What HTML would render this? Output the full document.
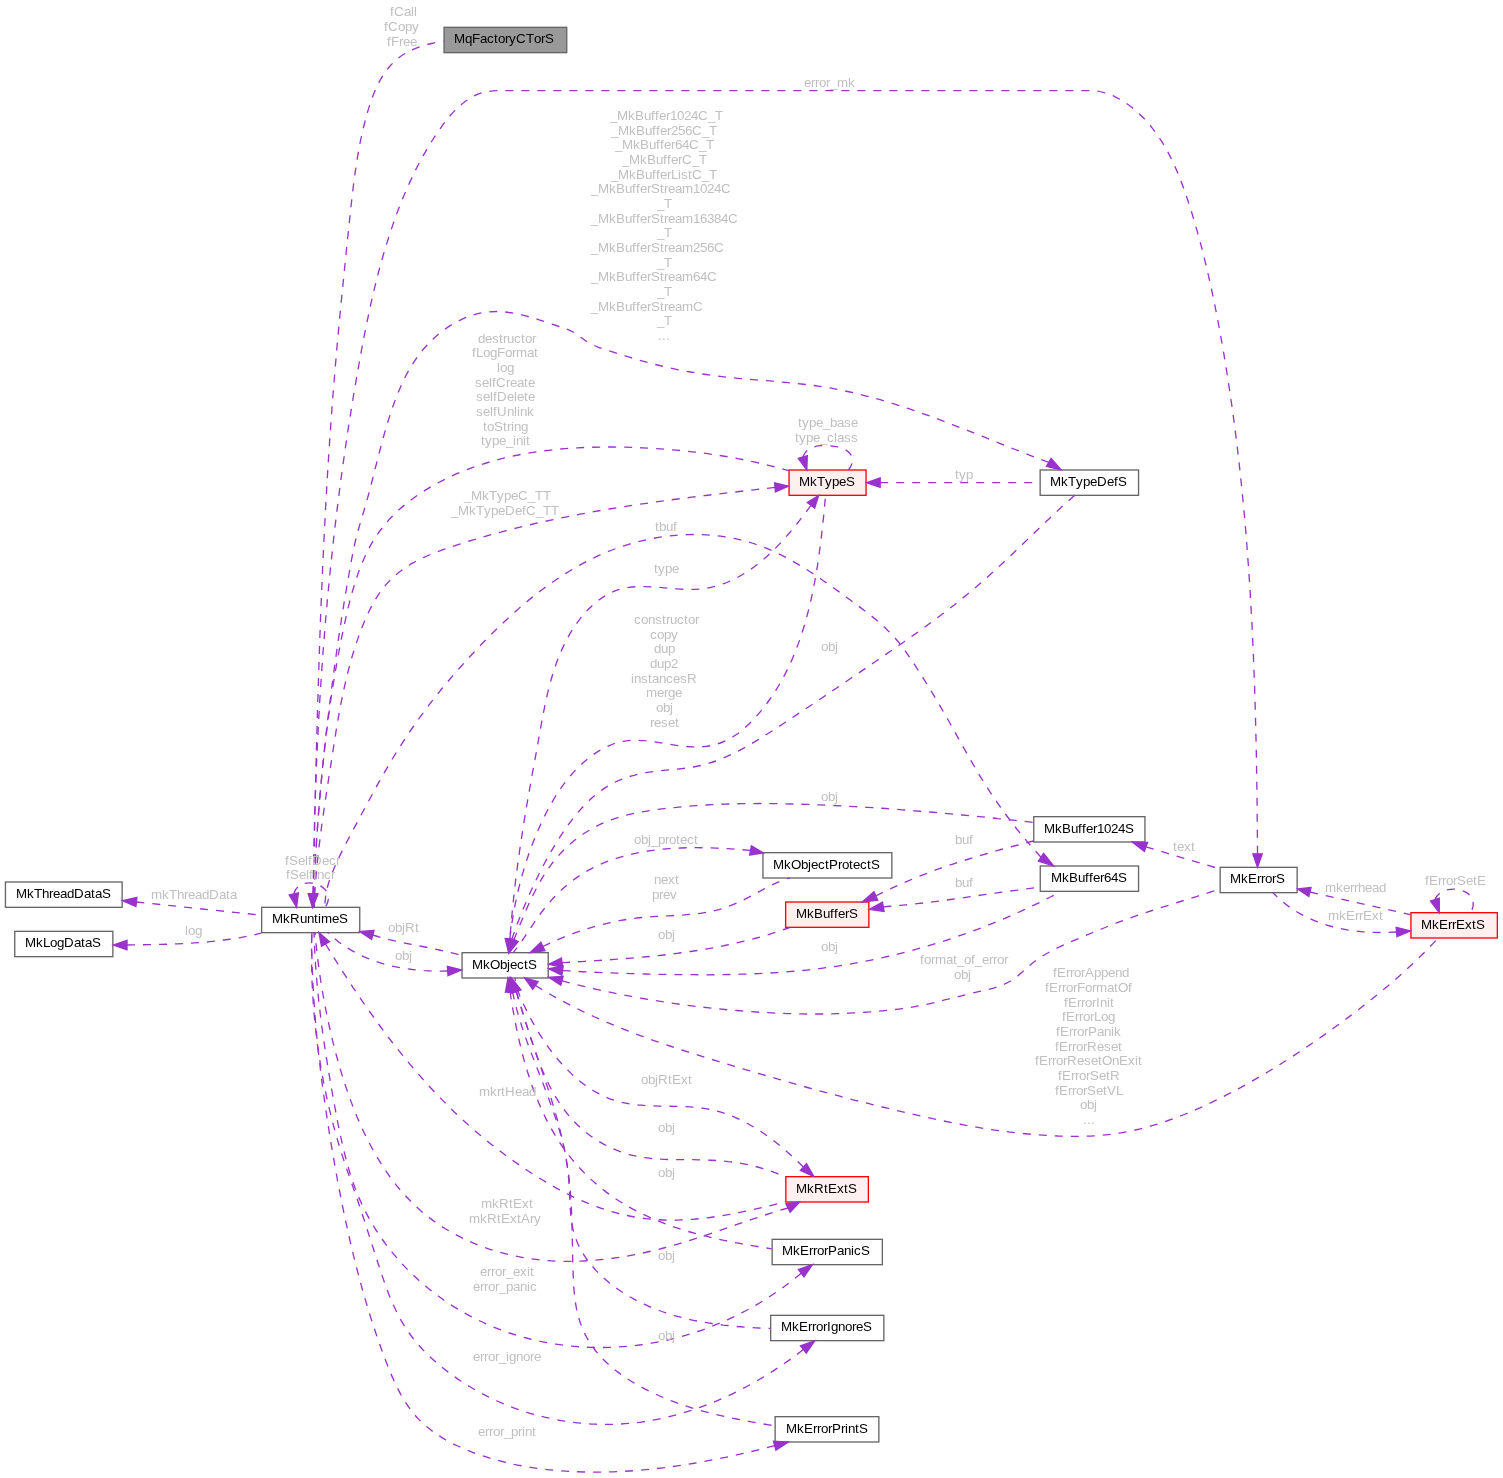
<!DOCTYPE html>
<html lang="en">
<head>
<meta charset="utf-8">
<title>MqFactoryCTorS collaboration graph</title>
<style>
html,body{margin:0;padding:0;background:#fff;}
body{width:1503px;height:1478px;overflow:hidden;}
svg{display:block;will-change:transform;}
text{font-family:"Liberation Sans",sans-serif;font-size:13.3333px;}
.e{fill:none;stroke:#9a32cd;stroke-width:1.3333;stroke-dasharray:8,8;}
.a{fill:#9a32cd;stroke:#9a32cd;stroke-width:1.3333;}
.n{fill:#fff;stroke:#666;stroke-width:1.3333;}
.r{fill:#fff0f0;stroke:#f00;stroke-width:1.3333;}
.g{fill:#999;stroke:#666;stroke-width:1.3333;}
</style>
</head>
<body>
<svg width="1503" height="1478" viewBox="0 0 1503 1478">
<rect x="0" y="0" width="1503" height="1478" fill="#fff"/>
<g id="nodes">
<rect class="g" x="444.05" y="27.33" width="122.70" height="25.33"/><text x="454 465 472 480 487 494 498 505 509 516 526 534 541 545" y="43" fill="#000">MqFactoryCTorS</text>
<rect class="n" x="261.65" y="907.33" width="98.10" height="25.33"/><text x="272 283 290 300 307 314 318 321 332 339" y="923" fill="#000">MkRuntimeS</text>
<rect class="n" x="5.45" y="882.00" width="116.70" height="25.33"/><text x="16 27 34 42 49 53 60 67 74 84 91 95 102" y="898" fill="#000">MkThreadDataS</text>
<rect class="n" x="14.75" y="931.33" width="98.10" height="25.33"/><text x="25 36 43 50 57 64 74 81 85 92" y="947" fill="#000">MkLogDataS</text>
<rect class="n" x="462.05" y="952.67" width="86.20" height="25.33"/><text x="472 483 490 500 507 510 517 524 528" y="969" fill="#000">MkObjectS</text>
<rect class="r" x="789.05" y="470.00" width="77.00" height="25.33"/><text x="799 810 817 825 832 839 846" y="486" fill="#000">MkTypeS</text>
<rect class="n" x="1040.15" y="470.00" width="98.40" height="25.33"/><text x="1050 1061 1068 1076 1083 1090 1097 1107 1114 1118" y="486" fill="#000">MkTypeDefS</text>
<rect class="n" x="1033.75" y="816.67" width="111.20" height="25.33"/><text x="1044 1055 1062 1071 1078 1082 1086 1093 1097 1104 1111 1118 1125" y="833" fill="#000">MkBuffer1024S</text>
<rect class="n" x="1040.25" y="866.00" width="98.30" height="25.33"/><text x="1051 1062 1069 1078 1085 1089 1093 1100 1104 1111 1118" y="882" fill="#000">MkBuffer64S</text>
<rect class="n" x="762.95" y="852.67" width="128.90" height="25.33"/><text x="773 784 791 801 808 811 818 825 829 838 842 849 853 860 867 871" y="869" fill="#000">MkObjectProtectS</text>
<rect class="r" x="785.65" y="902.00" width="83.20" height="25.33"/><text x="796 807 814 823 830 834 838 845 849" y="918" fill="#000">MkBufferS</text>
<rect class="n" x="1220.15" y="867.33" width="77.00" height="25.33"/><text x="1230 1241 1248 1257 1261 1265 1272 1276" y="883" fill="#000">MkErrorS</text>
<rect class="r" x="1410.95" y="912.67" width="86.40" height="25.33"/><text x="1421 1432 1439 1448 1452 1456 1465 1472 1476" y="929" fill="#000">MkErrExtS</text>
<rect class="r" x="785.85" y="1176.67" width="82.50" height="25.33"/><text x="796 807 814 824 828 837 844 848" y="1193" fill="#000">MkRtExtS</text>
<rect class="n" x="772.15" y="1239.33" width="110.20" height="25.33"/><text x="782 793 800 809 813 817 824 828 837 844 851 854 861" y="1255" fill="#000">MkErrorPanicS</text>
<rect class="n" x="770.65" y="1315.33" width="113.20" height="25.33"/><text x="781 792 799 808 812 816 823 827 831 838 845 852 856 863" y="1331" fill="#000">MkErrorIgnoreS</text>
<rect class="n" x="775.15" y="1416.67" width="103.70" height="25.33"/><text x="786 797 804 813 817 821 828 832 841 845 848 855 859" y="1433" fill="#000">MkErrorPrintS</text>
</g>
<g id="edges">
<path class="e" d="M313,893.9C313.1,889.9 313.2,885.9 313.3,882C313.4,878 313.5,874 313.6,870C313.6,866 313.7,862 313.8,858.1C313.9,854.1 314,850.1 314.1,846.1C314.2,842.1 314.3,838.1 314.4,834.2C314.5,830.2 314.6,826.2 314.7,822.2C314.8,818.2 314.8,814.2 314.9,810.3C315,806.3 315.1,802.3 315.2,798.3C315.3,794.3 315.4,790.3 315.5,786.4C315.6,782.4 315.7,778.4 315.8,774.4C315.9,770.4 316,766.4 316.1,762.5C316.2,758.5 316.3,754.5 316.4,750.5C316.5,746.5 316.6,742.5 316.7,738.5C316.8,734.6 317,730.6 317.1,726.6C317.2,722.6 317.3,718.6 317.4,714.6C317.5,710.6 317.6,706.7 317.7,702.7C317.9,698.7 318,694.7 318.1,690.7C318.2,686.7 318.3,682.8 318.5,678.8C318.6,674.8 318.7,670.8 318.9,666.8C319,662.8 319.1,658.8 319.3,654.9C319.4,650.9 319.5,646.9 319.7,642.9C319.8,638.9 319.9,634.9 320.1,631C320.2,627 320.4,623 320.5,619C320.7,615 320.8,611 321,607.1C321.2,603.1 321.3,599.1 321.5,595.1C321.6,591.1 321.8,587.1 322,583.2C322.1,579.2 322.3,575.2 322.5,571.2C322.7,567.2 322.8,563.3 323,559.3C323.2,555.3 323.4,551.3 323.6,547.3C323.8,543.3 324,539.4 324.2,535.4C324.4,531.4 324.6,527.4 324.8,523.4C325,519.5 325.2,515.5 325.4,511.5C325.6,507.5 325.8,503.5 326.1,499.6C326.3,495.6 326.5,491.6 326.7,487.6C327,483.7 327.2,479.7 327.4,475.7C327.7,471.7 327.9,467.7 328.2,463.8C328.4,459.8 328.7,455.8 328.9,451.8C329.2,447.9 329.5,443.9 329.7,439.9C330,435.9 330.3,432 330.6,428C330.8,424 331.1,420.1 331.4,416.1C331.7,412.1 332,408.1 332.3,404.2C332.6,400.2 332.9,396.2 333.2,392.2C333.5,388.3 333.8,384.3 334.2,380.3C334.5,376.4 334.8,372.4 335.1,368.4C335.5,364.5 335.8,360.5 336.2,356.5C336.5,352.6 336.9,348.6 337.2,344.6C337.6,340.7 337.9,336.7 338.3,332.7C338.7,328.8 339,324.8 339.4,320.8C339.8,316.9 340.1,312.9 340.5,308.9C340.9,305 341.3,301 341.7,297C342.1,293.1 342.5,289.1 342.9,285.1C343.3,281.2 343.7,277.2 344.1,273.2C344.5,269.3 344.9,265.3 345.3,261.3C345.7,257.4 346.1,253.4 346.5,249.4C346.9,245.5 347.3,241.5 347.7,237.5C348.1,233.6 348.6,229.6 349,225.6C349.4,221.7 349.8,217.7 350.2,213.7C350.6,209.8 351.1,205.8 351.5,201.8C352,197.9 352.4,193.9 352.9,189.9C353.4,186 353.8,182 354.4,178.1C354.9,174.1 355.5,170.1 356.1,166.2C356.6,162.3 357.3,158.3 358,154.4C358.6,150.5 359.4,146.5 360.1,142.6C360.9,138.7 361.8,134.8 362.7,130.9C363.6,127 364.5,123.1 365.6,119.2C366.6,115.4 367.7,111.5 368.9,107.6C370.1,103.8 371.4,100 372.8,96.3C374.2,92.5 375.8,88.9 377.5,85.4C379.2,81.8 381.1,78.4 383.2,75.2C385.2,72 387.5,68.9 390,66C392.6,63.2 395.3,60.5 398.3,58.1C401.4,55.7 404.7,53.6 408.3,51.8C411.8,49.9 415.6,48.3 419.5,46.9C423.4,45.5 427.5,44.4 431.5,43.5C435.6,42.5 439.6,41.8 443.6,41.2"/><polygon class="a" points="308.3,893.8 312.6,907.3 317.7,894"/>
<path class="e" d="M136.4,902L261.2,915.2"/><polygon class="a" points="136.9,897.4 122.6,900.6 135.9,906.6"/>
<path class="e" d="M127,945C130.7,944.9 134.5,944.9 138.2,944.8C142,944.8 145.7,944.7 149.5,944.6C153.2,944.6 157,944.5 160.7,944.4C164.5,944.3 168.2,944.2 172,944.1C175.7,943.9 179.5,943.8 183.2,943.6C187,943.4 190.7,943.2 194.5,942.9C198.2,942.7 202,942.4 205.7,942.1C209.4,941.7 213.2,941.4 216.9,940.9C220.6,940.5 224.3,940.1 228,939.5C231.8,939 235.5,938.4 239.2,937.8C242.8,937.2 246.5,936.5 250.2,935.7C253.9,934.9 257.5,934.1 261.2,933.2"/><polygon class="a" points="127,940.3 113.3,945 127,949.7"/>
<path class="e" d="M293.8,893.9C294.9,889.6 297.4,886.6 300.6,884.9C303.8,883.2 307.7,882.6 311.6,883.1C315.4,883.5 319.3,884.9 322.3,887.1C325.3,889.3 327.5,892.2 328.2,895.6C328.9,899.1 328.1,903 325.1,907.3"/><polygon class="a" points="289.2,894.9 296.6,907.3 298.4,892.9"/>
<path class="e" d="M1257.5,853.8C1257.5,849.8 1257.5,845.9 1257.4,841.9C1257.4,837.9 1257.4,833.9 1257.3,830C1257.3,826 1257.3,822 1257.2,818C1257.2,814.1 1257.2,810.1 1257.1,806.1C1257.1,802.1 1257,798.2 1257,794.2C1256.9,790.2 1256.9,786.2 1256.8,782.2C1256.8,778.3 1256.7,774.3 1256.6,770.3C1256.6,766.3 1256.5,762.3 1256.4,758.3C1256.3,754.4 1256.3,750.4 1256.2,746.4C1256.1,742.4 1256,738.4 1255.9,734.4C1255.8,730.4 1255.7,726.5 1255.6,722.5C1255.5,718.5 1255.4,714.5 1255.3,710.5C1255.2,706.5 1255.1,702.5 1254.9,698.5C1254.8,694.6 1254.7,690.6 1254.6,686.6C1254.4,682.6 1254.3,678.6 1254.1,674.6C1254,670.6 1253.8,666.6 1253.7,662.6C1253.5,658.7 1253.4,654.7 1253.2,650.7C1253,646.7 1252.8,642.7 1252.6,638.7C1252.5,634.7 1252.3,630.8 1252.1,626.8C1251.9,622.8 1251.7,618.8 1251.4,614.8C1251.2,610.8 1251,606.8 1250.8,602.9C1250.5,598.9 1250.3,594.9 1250.1,590.9C1249.8,586.9 1249.6,582.9 1249.3,579C1249,575 1248.8,571 1248.5,567C1248.2,563 1247.9,559.1 1247.6,555.1C1247.3,551.1 1247,547.1 1246.7,543.2C1246.4,539.2 1246.1,535.2 1245.8,531.2C1245.4,527.3 1245.1,523.3 1244.7,519.3C1244.4,515.3 1244,511.4 1243.7,507.4C1243.3,503.4 1242.9,499.5 1242.5,495.5C1242.1,491.5 1241.7,487.6 1241.3,483.6C1240.9,479.7 1240.5,475.7 1240.1,471.7C1239.6,467.8 1239.2,463.8 1238.7,459.9C1238.3,455.9 1237.8,452 1237.4,448C1236.9,444.1 1236.4,440.1 1235.9,436.2C1235.4,432.2 1234.9,428.3 1234.4,424.3C1233.9,420.4 1233.3,416.4 1232.8,412.5C1232.3,408.6 1231.7,404.6 1231.1,400.7C1230.6,396.8 1230,392.8 1229.4,388.9C1228.8,385 1228.2,381 1227.6,377.1C1227,373.2 1226.4,369.3 1225.7,365.3C1225.1,361.4 1224.4,357.5 1223.8,353.6C1223.1,349.7 1222.4,345.7 1221.7,341.8C1221,337.9 1220.3,334 1219.6,330.1C1218.9,326.2 1218.2,322.3 1217.4,318.4C1216.7,314.5 1215.9,310.6 1215.1,306.7C1214.4,302.8 1213.6,298.9 1212.7,295C1211.9,291.2 1211.1,287.3 1210.2,283.4C1209.4,279.5 1208.5,275.6 1207.6,271.8C1206.7,267.9 1205.8,264 1204.8,260.1C1203.9,256.3 1202.9,252.4 1201.9,248.5C1200.9,244.7 1199.8,240.8 1198.8,236.9C1197.7,233.1 1196.6,229.2 1195.5,225.4C1194.4,221.5 1193.3,217.6 1192.1,213.8C1190.9,209.9 1189.7,206.1 1188.4,202.3C1187.2,198.4 1185.9,194.6 1184.5,190.8C1183.2,187 1181.8,183.2 1180.3,179.4C1178.9,175.7 1177.3,171.9 1175.7,168.3C1174.1,164.6 1172.4,161 1170.6,157.4C1168.9,153.8 1167,150.3 1165,146.9C1163,143.5 1160.9,140.1 1158.7,136.8C1156.5,133.6 1154.1,130.4 1151.7,127.3C1149.2,124.2 1146.6,121.2 1143.8,118.3C1141.1,115.5 1138.2,112.7 1135.1,110.1C1132.1,107.5 1128.8,105 1125.5,102.8C1122.2,100.5 1118.7,98.5 1115.1,96.8C1111.6,95.1 1107.9,93.7 1104.1,92.7C1100.3,91.6 1096.5,90.9 1092.5,90.7L497.6,90.7C493.6,90.8 489.7,91.1 485.9,91.9C482,92.6 478.3,93.8 474.6,95.6C471,97.4 467.5,99.7 464.2,102.2C460.9,104.8 457.8,107.5 455,110.4C452.2,113.3 449.6,116.3 447.1,119.3C444.7,122.4 442.4,125.6 440.1,128.8C437.8,132 435.6,135.2 433.5,138.5C431.4,141.8 429.3,145.2 427.3,148.6C425.3,152 423.3,155.4 421.4,158.9C419.6,162.3 417.7,165.8 415.9,169.4C414.2,172.9 412.4,176.5 410.8,180.1C409.1,183.7 407.5,187.3 405.9,191C404.3,194.6 402.8,198.3 401.3,202C399.8,205.7 398.4,209.4 397,213.1C395.6,216.9 394.3,220.6 393,224.4C391.7,228.2 390.4,231.9 389.2,235.7C388,239.5 386.8,243.3 385.6,247.1C384.5,250.9 383.4,254.7 382.3,258.5C381.2,262.4 380.2,266.2 379.1,270C378.1,273.8 377.1,277.7 376.2,281.5C375.2,285.4 374.3,289.2 373.4,293.1C372.5,296.9 371.6,300.8 370.7,304.6C369.9,308.5 369,312.4 368.2,316.3C367.4,320.1 366.6,324 365.8,327.9C365,331.8 364.3,335.7 363.5,339.6C362.8,343.4 362,347.3 361.3,351.2C360.6,355.1 359.9,359 359.2,362.9C358.5,366.8 357.8,370.7 357.1,374.6C356.4,378.5 355.8,382.4 355.1,386.3C354.4,390.2 353.8,394.1 353.1,398C352.5,401.9 351.8,405.9 351.2,409.8C350.6,413.7 350,417.6 349.4,421.5C348.7,425.4 348.1,429.3 347.5,433.3C347,437.2 346.4,441.1 345.8,445C345.2,448.9 344.6,452.8 344.1,456.8C343.5,460.7 343,464.6 342.4,468.5C341.9,472.5 341.4,476.4 340.8,480.3C340.3,484.2 339.8,488.2 339.3,492.1C338.8,496 338.3,500 337.8,503.9C337.3,507.8 336.8,511.8 336.3,515.7C335.9,519.6 335.4,523.6 334.9,527.5C334.5,531.5 334,535.4 333.6,539.3C333.1,543.3 332.7,547.2 332.3,551.2C331.9,555.1 331.4,559 331,563C330.6,566.9 330.2,570.9 329.8,574.8C329.4,578.8 329,582.7 328.7,586.6C328.3,590.6 327.9,594.5 327.5,598.5C327.2,602.4 326.8,606.4 326.5,610.3C326.1,614.3 325.8,618.2 325.4,622.2C325.1,626.1 324.8,630.1 324.5,634.1C324.2,638 323.8,642 323.5,645.9C323.2,649.9 322.9,653.8 322.6,657.8C322.4,661.7 322.1,665.7 321.8,669.6C321.5,673.6 321.3,677.6 321,681.5C320.7,685.5 320.5,689.4 320.2,693.4C320,697.3 319.7,701.3 319.5,705.3C319.3,709.2 319.1,713.2 318.8,717.1C318.6,721.1 318.4,725.1 318.2,729C318,733 317.8,736.9 317.6,740.9C317.4,744.9 317.2,748.8 317.1,752.8C316.9,756.8 316.7,760.7 316.5,764.7C316.4,768.6 316.2,772.6 316.1,776.6C315.9,780.5 315.8,784.5 315.6,788.5C315.5,792.4 315.4,796.4 315.2,800.3C315.1,804.3 315,808.3 314.9,812.2C314.8,816.2 314.6,820.2 314.5,824.1C314.4,828.1 314.4,832 314.3,836C314.2,840 314.1,843.9 314,847.9C313.9,851.9 313.9,855.8 313.8,859.8C313.7,863.7 313.7,867.7 313.6,871.7C313.6,875.6 313.5,879.6 313.5,883.5C313.4,887.5 313.4,891.5 313.4,895.4C313.3,899.4 313.3,903.3 313.3,907.3"/><polygon class="a" points="1252.8,853.8 1257.5,867.3 1262.2,853.8"/>
<path class="e" d="M1048.8,462.4C1045,461 1041.3,459.6 1037.6,458.2C1033.8,456.8 1030.1,455.3 1026.4,453.9C1022.6,452.4 1018.9,451 1015.2,449.5C1011.5,448 1007.7,446.6 1004,445.1C1000.3,443.6 996.6,442.1 992.9,440.6C989.2,439.1 985.5,437.6 981.8,436.2C978,434.7 974.3,433.2 970.6,431.7C966.9,430.2 963.2,428.8 959.5,427.3C955.7,425.9 952,424.4 948.3,423C944.5,421.6 940.8,420.1 937.1,418.7C933.3,417.4 929.6,416 925.8,414.6C922,413.3 918.3,411.9 914.5,410.6C910.7,409.3 906.9,408.1 903.1,406.8C899.3,405.6 895.5,404.4 891.7,403.2C887.8,402 884,400.9 880.2,399.7C876.3,398.6 872.4,397.6 868.6,396.6C864.7,395.5 860.8,394.6 856.9,393.6C853,392.7 849.1,391.8 845.2,391C841.3,390.2 837.4,389.4 833.4,388.7C829.5,387.9 825.6,387.3 821.6,386.7C817.7,386.1 813.7,385.5 809.7,385C805.8,384.5 801.8,384.1 797.8,383.6C793.8,383.2 789.9,382.8 785.9,382.4C781.9,382.1 777.9,381.7 773.9,381.4C769.9,381 765.9,380.7 761.9,380.4C757.9,380.1 754,379.7 750,379.4C746,379 742,378.7 738,378.3C734,377.9 730.1,377.5 726.1,377.1C722.1,376.6 718.1,376.1 714.2,375.6C710.2,375.1 706.3,374.6 702.3,374C698.4,373.4 694.4,372.7 690.5,372C686.6,371.3 682.7,370.6 678.7,369.8C674.8,369 670.9,368.2 667,367.3C663.1,366.5 659.2,365.5 655.4,364.5C651.5,363.6 647.6,362.5 643.8,361.4C639.9,360.3 636,359.2 632.2,358C628.4,356.9 624.5,355.7 620.7,354.5C616.9,353.3 613,352.1 609.2,350.9C605.4,349.7 601.6,348.5 597.9,347.1C594.3,345.6 590.7,344 587.3,341.9C583.8,339.8 580.7,337.1 577.5,334.8C574.2,332.4 570.8,330.7 567.3,329.3C563.7,327.9 560,326.8 556.2,325.5C552.5,324.3 548.7,323 544.8,321.7C540.9,320.4 536.9,319.1 533,317.9C529,316.8 525,315.7 521,314.7C517,313.8 513,313 508.9,312.5C504.9,311.9 500.9,311.6 497,311.5C493,311.5 489.1,311.7 485.2,312.3C481.3,312.8 477.5,313.7 473.8,314.8C470,315.9 466.3,317.3 462.7,318.9C459.1,320.5 455.6,322.4 452.2,324.4C448.8,326.5 445.5,328.7 442.3,331.2C439.1,333.6 436,336.3 433.1,339C430.2,341.8 427.4,344.7 424.7,347.8C422,350.8 419.5,354 417.2,357.3C414.9,360.5 412.7,363.9 410.6,367.3C408.6,370.7 406.6,374.2 404.8,377.8C403,381.4 401.4,385 399.8,388.7C398.2,392.4 396.7,396.1 395.3,399.9C393.9,403.6 392.5,407.4 391.3,411.2C390,415 388.8,418.8 387.6,422.7C386.4,426.5 385.3,430.3 384.2,434.2C383.2,438 382.1,441.9 381.1,445.7C380.1,449.6 379.1,453.4 378.1,457.3C377.1,461.2 376.1,465 375.1,468.9C374.2,472.8 373.2,476.7 372.2,480.5C371.2,484.4 370.2,488.3 369.2,492.1C368.1,496 367.1,499.8 366,503.7C364.9,507.5 363.8,511.3 362.6,515.2C361.5,519 360.3,522.8 359.2,526.7C358.1,530.5 357,534.4 356.1,538.2C355.1,542.1 354.3,546 353.5,549.9C352.7,553.9 351.9,557.8 351.2,561.7C350.5,565.7 349.8,569.6 349.1,573.5C348.4,577.5 347.7,581.4 347,585.3C346.3,589.3 345.7,593.2 345,597.2C344.3,601.1 343.7,605.1 343.1,609C342.4,613 341.8,616.9 341.2,620.9C340.6,624.8 340,628.8 339.4,632.7C338.8,636.7 338.2,640.6 337.7,644.6C337.1,648.6 336.5,652.5 336,656.5C335.4,660.4 334.9,664.4 334.3,668.4C333.8,672.3 333.3,676.3 332.7,680.2C332.2,684.2 331.7,688.2 331.2,692.1C330.7,696.1 330.2,700.1 329.7,704C329.2,708 328.7,712 328.2,716C327.7,719.9 327.3,723.9 326.8,727.9C326.3,731.8 325.9,735.8 325.4,739.8C325,743.8 324.6,747.8 324.2,751.7C323.7,755.7 323.3,759.7 322.9,763.7C322.5,767.6 322.1,771.6 321.8,775.6C321.4,779.6 321,783.6 320.7,787.5C320.3,791.5 320,795.5 319.6,799.5C319.3,803.5 319,807.5 318.7,811.5C318.3,815.4 318,819.4 317.8,823.4C317.5,827.4 317.2,831.4 317,835.4C316.7,839.4 316.4,843.4 316.2,847.4C316,851.4 315.8,855.3 315.6,859.3C315.4,863.3 315.2,867.3 315,871.3C314.8,875.3 314.6,879.3 314.5,883.3C314.4,887.3 314.2,891.3 314.1,895.3C314,899.3 313.9,903.3 313.8,907.3"/><polygon class="a" points="1046.4,466.4 1061.2,469.9 1051.2,458.4"/>
<path class="e" d="M313.2,893.9C313.4,889.9 313.7,886 313.9,882C314.1,878 314.4,874.1 314.6,870.1C314.9,866.2 315.1,862.2 315.4,858.3C315.6,854.3 315.9,850.4 316.2,846.4C316.4,842.5 316.7,838.5 317,834.6C317.3,830.6 317.5,826.7 317.8,822.8C318.1,818.8 318.4,814.9 318.7,811C319.1,807 319.4,803.1 319.7,799.2C320,795.2 320.4,791.3 320.7,787.4C321.1,783.5 321.5,779.5 321.8,775.6C322.2,771.7 322.6,767.8 323,763.9C323.4,759.9 323.8,756 324.2,752.1C324.7,748.2 325.1,744.3 325.6,740.3C326,736.4 326.5,732.5 327,728.6C327.5,724.7 328,720.8 328.5,716.9C329,713 329.6,709.1 330.1,705.1C330.7,701.2 331.2,697.3 331.8,693.4C332.4,689.5 333,685.6 333.7,681.7C334.3,677.8 334.9,673.9 335.6,670C336.3,666.1 337,662.2 337.7,658.3C338.4,654.4 339.1,650.5 339.9,646.5C340.6,642.6 341.4,638.7 342.2,634.8C343,630.9 343.9,627 344.7,623.1C345.6,619.2 346.4,615.3 347.3,611.4C348.2,607.5 349.2,603.6 350.2,599.7C351.2,595.9 352.2,592 353.4,588.2C354.5,584.4 355.7,580.6 356.9,576.9C358.2,573.1 359.5,569.4 361,565.8C362.4,562.1 364,558.6 365.7,555C367.3,551.5 369.1,548.1 371,544.7C372.9,541.4 375,538.1 377.1,534.9C379.3,531.7 381.6,528.6 384.1,525.6C386.5,522.6 389.1,519.6 391.8,516.8C394.5,514 397.3,511.3 400.2,508.7C403.2,506.1 406.2,503.6 409.4,501.2C412.5,498.8 415.7,496.4 419,494.2C422.3,492 425.7,489.9 429.1,487.8C432.6,485.8 436.1,483.8 439.6,482C443.2,480.1 446.7,478.3 450.4,476.7C454,475 457.6,473.4 461.3,471.9C465,470.4 468.7,468.9 472.4,467.6C476.1,466.2 479.8,465 483.6,463.8C487.4,462.6 491.2,461.5 495,460.4C498.8,459.4 502.6,458.4 506.5,457.5C510.3,456.6 514.2,455.7 518.1,455C521.9,454.2 525.8,453.5 529.7,452.8C533.7,452.2 537.6,451.6 541.5,451.1C545.4,450.6 549.4,450.1 553.3,449.7C557.3,449.3 561.3,448.9 565.2,448.6C569.2,448.3 573.2,448 577.1,447.8C581.1,447.6 585.1,447.4 589.1,447.3C593.1,447.2 597.1,447.1 601,447.1C605,447 609,447 613,447C617,447.1 620.9,447.1 624.9,447.2C628.9,447.3 632.9,447.5 636.8,447.6C640.8,447.8 644.7,448 648.7,448.2C652.6,448.4 656.6,448.6 660.5,448.9C664.4,449.2 668.4,449.5 672.3,449.8C676.2,450.1 680.1,450.5 684,450.9C687.9,451.3 691.8,451.7 695.7,452.2C699.6,452.6 703.5,453.1 707.4,453.7C711.3,454.2 715.2,454.8 719,455.4C722.9,456 726.8,456.6 730.7,457.3C734.5,458 738.4,458.7 742.3,459.5C746.1,460.2 750,461 753.9,461.9C757.7,462.7 761.6,463.6 765.4,464.5C769.3,465.4 773.2,466.4 777,467.4C780.9,468.4 784.7,469.5 788.6,470.6"/><polygon class="a" points="308.5,893.7 312.6,907.3 317.9,894.1"/>
<path class="e" d="M775,487.4C771,487.9 767,488.3 763,488.8C759.1,489.2 755.1,489.7 751.1,490.1C747.1,490.6 743.2,491 739.2,491.5C735.2,492 731.3,492.4 727.3,492.9C723.3,493.4 719.4,493.8 715.4,494.3C711.5,494.8 707.5,495.2 703.6,495.7C699.6,496.2 695.7,496.7 691.7,497.2C687.8,497.7 683.8,498.2 679.9,498.7C676,499.2 672,499.7 668.1,500.3C664.2,500.8 660.2,501.3 656.3,501.9C652.4,502.4 648.5,503 644.5,503.6C640.6,504.1 636.7,504.7 632.8,505.3C628.9,505.9 625,506.5 621,507.1C617.1,507.8 613.2,508.4 609.3,509C605.4,509.7 601.5,510.4 597.6,511C593.7,511.7 589.8,512.4 585.9,513.1C582,513.8 578.1,514.6 574.2,515.3C570.3,516.1 566.4,516.9 562.5,517.6C558.7,518.4 554.8,519.2 550.9,520.1C547,520.9 543.1,521.8 539.2,522.6C535.4,523.5 531.5,524.4 527.6,525.3C523.7,526.2 519.8,527.2 516,528.1C512.1,529.1 508.2,530.1 504.4,531.1C500.5,532.1 496.6,533.2 492.7,534.2C488.9,535.3 485,536.4 481.2,537.5C477.3,538.7 473.4,539.8 469.6,541C465.7,542.2 461.8,543.4 458,544.6C454.1,545.9 450.3,547.1 446.4,548.5C442.6,549.8 438.8,551.2 435.1,552.6C431.3,554.1 427.6,555.6 424,557.3C420.4,559 416.8,560.7 413.4,562.7C410,564.6 406.7,566.6 403.5,568.9C400.4,571.1 397.3,573.5 394.4,576.1C391.6,578.7 388.9,581.5 386.3,584.4C383.7,587.3 381.3,590.4 379.1,593.6C376.9,596.9 374.8,600.2 372.9,603.7C371,607.2 369.2,610.8 367.6,614.4C365.9,618 364.3,621.7 362.8,625.4C361.3,629.1 359.9,632.9 358.6,636.6C357.2,640.4 356,644.2 354.7,648C353.5,651.8 352.4,655.6 351.3,659.4C350.2,663.2 349.2,667.1 348.2,671C347.2,674.8 346.3,678.7 345.4,682.6C344.5,686.5 343.6,690.4 342.8,694.3C342,698.2 341.2,702.1 340.5,706.1C339.8,710 339,713.9 338.3,717.9C337.7,721.8 337,725.7 336.3,729.7C335.7,733.6 335.1,737.6 334.4,741.5C333.8,745.5 333.2,749.4 332.6,753.4C332,757.3 331.4,761.2 330.8,765.2C330.2,769.1 329.5,773.1 328.9,777C328.3,780.9 327.7,784.8 327.1,788.8C326.5,792.7 325.9,796.6 325.3,800.5C324.7,804.5 324.2,808.4 323.6,812.3C323,816.2 322.5,820.2 321.9,824.1C321.4,828 320.9,831.9 320.4,835.9C319.9,839.8 319.4,843.7 318.9,847.7C318.5,851.6 318,855.6 317.6,859.5C317.2,863.5 316.8,867.4 316.5,871.4C316.1,875.3 315.8,879.3 315.5,883.3C315.2,887.3 315,891.3 314.7,895.3C314.5,899.3 314.3,903.3 314.2,907.3"/><polygon class="a" points="775.4,492 788.6,486.1 774.6,482.8"/>
<path class="e" d="M1041,857.2C1038.3,854.3 1035.6,851.3 1033,848.3C1030.3,845.3 1027.7,842.3 1025.2,839.2C1022.6,836.2 1020.1,833.1 1017.6,830C1015.1,826.9 1012.7,823.7 1010.3,820.5C1007.9,817.4 1005.5,814.2 1003.2,811C1000.8,807.7 998.5,804.5 996.3,801.2C994,797.9 991.8,794.6 989.6,791.3C987.5,788 985.3,784.6 983.2,781.2C981.1,777.9 979,774.5 977,771C975,767.6 973,764.2 971,760.7C969,757.3 967,753.8 965.1,750.3C963.2,746.8 961.2,743.4 959.3,739.9C957.3,736.4 955.4,732.9 953.5,729.4C951.5,725.9 949.6,722.5 947.6,719C945.6,715.5 943.6,712.1 941.6,708.6C939.6,705.2 937.6,701.7 935.5,698.3C933.5,694.9 931.4,691.5 929.4,688.1C927.3,684.7 925.2,681.3 923.1,677.9C920.9,674.5 918.8,671.1 916.6,667.8C914.5,664.4 912.3,661.1 910,657.8C907.8,654.5 905.5,651.2 903.1,648C900.8,644.8 898.3,641.8 895.7,638.8C893,635.8 890.3,632.9 887.5,630.2C884.7,627.4 881.8,624.7 878.8,622.1C875.8,619.5 872.8,617 869.7,614.6C866.6,612.1 863.4,609.8 860.3,607.4C857.1,605 853.9,602.7 850.7,600.3C847.4,598 844.2,595.6 841,593.2C837.7,590.9 834.4,588.5 831.2,586.2C827.9,583.8 824.6,581.5 821.2,579.2C817.9,576.9 814.6,574.7 811.2,572.5C807.8,570.3 804.4,568.1 801,566C797.5,563.9 794,561.9 790.5,560C787,558 783.5,556.1 779.9,554.4C776.4,552.6 772.8,551 769.1,549.4C765.5,547.8 761.8,546.4 758,545.1C754.3,543.8 750.5,542.6 746.7,541.6C742.9,540.5 739.1,539.6 735.2,538.7C731.3,537.9 727.4,537.2 723.5,536.7C719.5,536.1 715.6,535.6 711.6,535.3C707.7,535 703.7,534.8 699.7,534.6C695.7,534.5 691.7,534.5 687.7,534.7C683.7,534.8 679.7,535 675.8,535.3C671.8,535.7 667.8,536.1 663.8,536.7C659.9,537.2 655.9,537.9 652,538.6C648,539.4 644.1,540.2 640.3,541.2C636.4,542.1 632.5,543.2 628.7,544.3C624.9,545.5 621.1,546.7 617.4,548C613.6,549.4 609.9,550.8 606.2,552.3C602.6,553.8 599,555.5 595.4,557.1C591.8,558.8 588.3,560.6 584.7,562.4C581.2,564.3 577.8,566.2 574.3,568.2C570.9,570.2 567.5,572.3 564.2,574.4C560.8,576.5 557.5,578.7 554.2,581C550.9,583.2 547.7,585.6 544.4,587.9C541.2,590.3 538,592.7 534.9,595.2C531.7,597.7 528.6,600.2 525.6,602.8C522.5,605.4 519.4,608 516.4,610.7C513.4,613.3 510.4,616 507.5,618.7C504.5,621.5 501.6,624.2 498.7,627C495.8,629.8 492.9,632.6 490.1,635.5C487.3,638.3 484.5,641.2 481.7,644.1C478.9,647 476.2,649.9 473.5,652.8C470.8,655.7 468.1,658.6 465.4,661.6C462.8,664.5 460.1,667.5 457.5,670.4C454.9,673.4 452.3,676.3 449.8,679.3C447.2,682.3 444.7,685.3 442.2,688.3C439.7,691.4 437.2,694.4 434.8,697.5C432.3,700.6 429.9,703.8 427.5,707C425.1,710.2 422.7,713.4 420.4,716.7C418,719.9 415.7,723.2 413.4,726.5C411.1,729.8 408.9,733.1 406.7,736.4C404.4,739.7 402.3,743.1 400.1,746.4C398,749.8 395.9,753.2 393.8,756.5C391.7,759.9 389.7,763.4 387.7,766.8C385.7,770.2 383.7,773.6 381.8,777.1C379.8,780.6 377.9,784 376,787.5C374.1,791 372.2,794.5 370.3,798C368.4,801.5 366.5,805 364.6,808.5C362.7,812 360.9,815.5 359,819.1C357.1,822.6 355.2,826.1 353.3,829.6C351.4,833.2 349.6,836.7 347.7,840.3C345.8,843.8 344,847.4 342.2,850.9C340.4,854.5 338.6,858.1 337,861.7C335.3,865.3 333.7,869 332.3,872.7C330.8,876.3 329.5,880 328.4,883.8C327.3,887.6 326.4,891.4 325.8,895.3C325.2,899.2 324.9,903.2 325,907.3"/><polygon class="a" points="1038.4,861.1 1053.7,865.9 1043.6,853.3"/>
<path class="e" d="M811,505.3C808.8,508.4 806.4,511.5 804.1,514.6C801.7,517.8 799.3,520.9 796.8,524C794.3,527.2 791.7,530.3 789.1,533.3C786.4,536.4 783.7,539.4 781,542.4C778.2,545.4 775.4,548.3 772.5,551.1C769.6,553.9 766.6,556.6 763.6,559.2C760.6,561.8 757.5,564.3 754.3,566.7C751.1,569 747.9,571.3 744.6,573.3C741.3,575.4 737.9,577.3 734.4,579C731,580.7 727.4,582.3 723.8,583.6C720.2,584.9 716.5,586.1 712.8,586.9C709,587.8 705.2,588.5 701.3,588.9C697.4,589.3 693.4,589.4 689.4,589.4C685.3,589.4 681.2,589.2 677.1,588.9C673,588.6 668.9,588.2 664.8,587.9C660.7,587.5 656.6,587.1 652.5,586.9C648.4,586.7 644.4,586.5 640.4,586.6C636.5,586.6 632.6,586.9 628.8,587.4C625,587.9 621.2,588.7 617.7,589.9C614.1,591.1 610.6,592.7 607.3,594.5C604,596.4 600.8,598.5 597.7,600.9C594.6,603.3 591.7,605.9 588.9,608.8C586.1,611.6 583.5,614.6 581,617.7C578.5,620.9 576.1,624.1 573.9,627.5C571.7,630.8 569.7,634.2 567.7,637.7C565.8,641.2 564.1,644.7 562.4,648.4C560.8,652 559.2,655.6 557.8,659.3C556.4,663 555.1,666.8 553.9,670.6C552.7,674.4 551.5,678.2 550.5,682.1C549.4,685.9 548.4,689.8 547.5,693.7C546.6,697.7 545.7,701.6 544.9,705.5C544.1,709.5 543.3,713.4 542.6,717.4C541.8,721.3 541.1,725.3 540.4,729.2C539.7,733.2 539,737.1 538.3,741C537.6,744.9 536.9,748.8 536.2,752.7C535.5,756.6 534.8,760.5 534.1,764.4C533.3,768.2 532.6,772.1 531.9,775.9C531.2,779.8 530.6,783.7 529.9,787.5C529.2,791.4 528.5,795.3 527.8,799.1C527.2,803 526.5,806.9 525.8,810.8C525.2,814.6 524.6,818.5 523.9,822.5C523.3,826.4 522.7,830.3 522.1,834.2C521.5,838.1 520.9,842 520.3,846C519.7,849.9 519.2,853.9 518.6,857.8C518.1,861.7 517.5,865.7 517,869.7C516.5,873.6 516,877.6 515.5,881.5C515.1,885.5 514.6,889.4 514.1,893.4C513.7,897.3 513.3,901.3 512.9,905.3C512.5,909.2 512.1,913.2 511.7,917.1C511.3,921.1 511,925 510.7,929C510.3,932.9 510,936.9 509.8,940.8C509.5,944.7 509.2,948.7 509,952.6"/><polygon class="a" points="814.7,508.1 818.6,495.4 807.3,502.5"/>
<path class="e" d="M509.8,939C510.3,935 510.8,931.1 511.3,927.1C511.9,923.2 512.5,919.2 513.2,915.3C513.8,911.4 514.6,907.5 515.3,903.6C516.1,899.7 517,895.9 517.9,892C518.8,888.2 519.7,884.3 520.7,880.5C521.7,876.7 522.8,872.9 524,869.1C525.1,865.3 526.3,861.6 527.5,857.8C528.8,854.1 530.1,850.3 531.5,846.6C532.9,842.9 534.4,839.2 535.9,835.5C537.4,831.8 539,828.1 540.6,824.5C542.3,820.8 544,817.2 545.8,813.7C547.6,810.1 549.5,806.5 551.5,803.1C553.5,799.6 555.6,796.2 557.8,792.8C559.9,789.5 562.2,786.2 564.6,783.1C567,779.9 569.6,776.8 572.2,773.8C574.8,770.8 577.6,767.9 580.5,765.2C583.4,762.4 586.5,759.8 589.6,757.3C592.8,754.9 596,752.6 599.4,750.6C602.8,748.5 606.3,746.7 609.9,745.3C613.4,743.8 617.1,742.6 620.9,741.8C624.6,740.9 628.4,740.5 632.3,740.3C636.2,740.2 640.2,740.3 644.2,740.7C648.2,741 652.2,741.5 656.3,742.1C660.3,742.7 664.4,743.4 668.5,744C672.5,744.7 676.6,745.4 680.6,745.9C684.7,746.4 688.7,746.8 692.6,746.9C696.6,747.1 700.5,747 704.3,746.6C708.2,746.2 712,745.5 715.7,744.4C719.3,743.4 722.9,742 726.4,740.3C729.9,738.7 733.3,736.7 736.5,734.5C739.7,732.3 742.8,729.8 745.8,727.1C748.7,724.4 751.6,721.5 754.3,718.6C757,715.6 759.6,712.6 762.1,709.5C764.6,706.4 767,703.2 769.3,700C771.6,696.8 773.8,693.5 775.9,690.1C778,686.8 780,683.4 781.9,679.9C783.9,676.5 785.7,673 787.4,669.4C789.1,665.9 790.8,662.3 792.4,658.7C793.9,655 795.4,651.4 796.8,647.6C798.3,643.9 799.6,640.2 800.9,636.4C802.1,632.6 803.3,628.8 804.5,625C805.6,621.1 806.7,617.3 807.7,613.4C808.7,609.5 809.7,605.6 810.6,601.7C811.5,597.7 812.3,593.8 813.1,589.9C813.9,585.9 814.7,581.9 815.4,578C816.1,574 816.7,570 817.4,566.1C818,562.1 818.6,558.1 819.1,554.1C819.7,550.2 820.2,546.2 820.7,542.2C821.2,538.3 821.6,534.3 822.1,530.4C822.5,526.4 822.9,522.5 823.4,518.6C823.8,514.7 824.1,510.8 824.5,506.9C824.9,503.1 825.2,499.2 825.6,495.4"/><polygon class="a" points="505.2,938.6 508.6,952.6 514.4,939.4"/>
<path class="e" d="M511.7,939.5C513,935.7 514.3,932 515.7,928.3C517,924.6 518.4,920.9 519.9,917.2C521.3,913.6 522.8,909.9 524.3,906.3C525.8,902.7 527.4,899.1 529,895.5C530.5,891.9 532.2,888.3 533.8,884.8C535.5,881.2 537.2,877.7 538.9,874.2C540.6,870.7 542.4,867.2 544.3,863.7C546.1,860.2 548,856.8 550,853.4C551.9,849.9 553.9,846.5 556,843.2C558.1,839.8 560.3,836.4 562.5,833.1C564.7,829.8 567,826.5 569.4,823.2C571.8,820 574.2,816.8 576.8,813.8C579.3,810.7 582,807.7 584.7,804.9C587.4,802 590.3,799.3 593.2,796.8C596.2,794.2 599.2,791.8 602.4,789.6C605.5,787.4 608.8,785.4 612.2,783.6C615.6,781.8 619.2,780.2 622.8,778.8C626.4,777.5 630.2,776.3 634,775.3C637.8,774.2 641.6,773.4 645.6,772.7C649.5,772 653.5,771.5 657.4,771C661.4,770.6 665.5,770.2 669.5,769.8C673.5,769.5 677.5,769.1 681.5,768.7C685.5,768.2 689.4,767.7 693.3,767C697.2,766.4 701,765.5 704.7,764.5C708.5,763.5 712.2,762.3 715.8,761C719.5,759.7 723.1,758.2 726.6,756.7C730.2,755.1 733.7,753.4 737.1,751.6C740.6,749.9 744,748 747.4,746.1C750.8,744.1 754.2,742.1 757.5,740.1C760.9,738 764.2,735.9 767.6,733.8C770.9,731.7 774.2,729.5 777.5,727.4C780.8,725.2 784.1,723 787.4,720.9C790.7,718.7 794,716.5 797.3,714.4C800.6,712.2 803.9,710 807.2,707.8C810.5,705.6 813.8,703.4 817,701.2C820.3,699 823.6,696.8 826.9,694.6C830.1,692.4 833.4,690.2 836.7,688C839.9,685.8 843.2,683.5 846.5,681.3C849.7,679.1 853,676.9 856.2,674.7C859.5,672.4 862.7,670.2 866,668C869.3,665.8 872.5,663.5 875.8,661.3C879,659.1 882.3,656.9 885.5,654.6C888.7,652.4 892,650.2 895.2,647.9C898.5,645.7 901.7,643.4 904.9,641.2C908.1,638.9 911.4,636.6 914.6,634.4C917.8,632.1 921,629.8 924.2,627.5C927.3,625.2 930.5,622.9 933.7,620.5C936.8,618.2 940,615.8 943.1,613.5C946.2,611.1 949.4,608.7 952.5,606.3C955.6,603.9 958.6,601.4 961.7,598.9C964.8,596.5 967.8,594 970.8,591.4C973.8,588.9 976.8,586.4 979.8,583.8C982.8,581.2 985.7,578.6 988.7,575.9C991.6,573.3 994.5,570.6 997.4,568C1000.3,565.3 1003.2,562.6 1006.1,559.9C1009,557.2 1011.9,554.5 1014.7,551.7C1017.6,549 1020.4,546.3 1023.3,543.5C1026.1,540.8 1029,538 1031.8,535.3C1034.7,532.5 1037.5,529.8 1040.4,527.1C1043.2,524.4 1046.1,521.6 1049,518.9C1051.8,516.2 1054.7,513.5 1057.6,510.8C1060.4,508.1 1063.3,505.5 1066.2,502.8C1069.1,500.2 1072.1,497.6 1075,495"/><polygon class="a" points="507.1,938.5 508.9,952.6 516.3,940.5"/>
<path class="e" d="M513.8,940C515.2,936.5 516.7,932.9 518.2,929.2C519.6,925.6 521.1,921.9 522.7,918.2C524.2,914.5 525.8,910.8 527.4,907.1C529.1,903.4 530.8,899.7 532.5,896C534.3,892.4 536.2,888.7 538.1,885.2C540,881.6 542.1,878.1 544.2,874.7C546.3,871.3 548.6,868 551,864.8C553.3,861.7 555.8,858.6 558.5,855.7C561.1,852.7 563.9,849.9 566.7,847.2C569.6,844.5 572.6,842 575.6,839.6C578.7,837.2 581.9,834.9 585.2,832.8C588.5,830.7 591.9,828.7 595.3,826.9C598.8,825.1 602.3,823.4 605.9,821.9C609.6,820.4 613.3,819 617,817.8C620.8,816.6 624.6,815.5 628.5,814.6C632.4,813.7 636.3,812.8 640.3,812.1C644.2,811.4 648.2,810.8 652.2,810.2C656.2,809.6 660.2,809.1 664.2,808.6C668.2,808.2 672.2,807.7 676.2,807.4C680.2,807 684.2,806.6 688.2,806.3C692.2,805.9 696.2,805.7 700.2,805.4C704.2,805.1 708.1,804.9 712.1,804.7C716.1,804.5 720.1,804.3 724.1,804.2C728,804 732,803.9 736,803.8C740,803.7 743.9,803.7 747.9,803.6C751.9,803.6 755.8,803.5 759.8,803.5C763.8,803.5 767.7,803.6 771.7,803.6C775.7,803.6 779.6,803.7 783.6,803.8C787.6,803.8 791.5,803.9 795.5,804.1C799.5,804.2 803.4,804.3 807.4,804.4C811.3,804.6 815.3,804.7 819.3,804.9C823.2,805 827.2,805.2 831.2,805.4C835.1,805.6 839.1,805.8 843.1,806C847,806.2 851,806.4 855,806.6C858.9,806.9 862.9,807.1 866.9,807.3C870.9,807.6 874.8,807.8 878.8,808.1C882.8,808.4 886.7,808.7 890.7,808.9C894.7,809.2 898.6,809.5 902.6,809.8C906.6,810.1 910.5,810.5 914.5,810.8C918.5,811.1 922.4,811.4 926.4,811.8C930.4,812.1 934.3,812.4 938.3,812.8C942.3,813.1 946.2,813.5 950.2,813.9C954.2,814.2 958.1,814.6 962.1,815C966,815.4 970,815.8 974,816.1C977.9,816.5 981.9,816.9 985.9,817.3C989.8,817.7 993.8,818.1 997.7,818.6C1001.7,819 1005.6,819.4 1009.6,819.8C1013.5,820.2 1017.5,820.7 1021.4,821.1C1025.4,821.5 1029.4,822 1033.3,822.4"/><polygon class="a" points="509.4,938.4 509.3,952.6 518.2,941.6"/>
<path class="e" d="M750.5,850.4C746.8,850.1 743.1,849.8 739.4,849.5C735.6,849.2 731.8,848.9 728,848.7C724.1,848.5 720.3,848.3 716.4,848.1C712.5,847.9 708.6,847.8 704.7,847.8C700.7,847.7 696.8,847.7 692.9,847.7C688.9,847.7 685,847.8 681,848C677.1,848.1 673.1,848.3 669.2,848.6C665.2,848.9 661.3,849.3 657.4,849.8C653.5,850.2 649.6,850.8 645.8,851.4C641.9,852 638.1,852.7 634.3,853.6C630.5,854.4 626.7,855.3 623,856.3C619.3,857.4 615.7,858.5 612,859.8C608.4,861 604.9,862.4 601.4,863.9C597.9,865.4 594.4,867.1 591.1,868.8C587.7,870.6 584.4,872.5 581.2,874.6C578,876.6 574.9,878.8 571.8,881.1C568.8,883.5 565.8,886 563,888.6C560.1,891.2 557.3,893.9 554.6,896.8C551.9,899.6 549.3,902.5 546.8,905.6C544.3,908.6 541.9,911.7 539.6,914.8C537.3,918 535.1,921.2 533,924.4C530.8,927.7 528.7,930.9 526.6,934.1C524.4,937.3 522.3,940.5 520.1,943.6C517.9,946.7 515.5,949.7 513.1,952.6"/><polygon class="a" points="749.6,855 763.5,852.9 751.4,845.8"/>
<path class="e" d="M542.9,946.5C546.5,944.7 550.1,943.1 553.7,941.5C557.3,939.8 560.9,938.3 564.5,936.8C568.2,935.3 571.9,933.9 575.6,932.6C579.3,931.3 583,930 586.7,928.9C590.4,927.7 594.2,926.6 597.9,925.6C601.7,924.6 605.5,923.6 609.3,922.8C613.1,921.9 617,921.1 620.8,920.4C624.7,919.7 628.5,919.1 632.4,918.6C636.3,918.1 640.2,917.6 644.2,917.3C648.1,916.9 652,916.7 656,916.4C659.9,916.2 663.9,916 667.9,915.8C671.8,915.6 675.8,915.5 679.7,915.2C683.7,915 687.6,914.7 691.5,914.3C695.4,914 699.3,913.5 703.1,912.9C707,912.3 710.8,911.6 714.5,910.7C718.3,909.8 722,908.7 725.7,907.5C729.3,906.2 732.9,904.8 736.5,903.2C740.1,901.6 743.6,899.9 747.1,898.1C750.7,896.3 754.1,894.4 757.6,892.5C761.1,890.6 764.6,888.7 768.1,886.9C771.6,885.1 775.2,883.4 778.8,881.8C782.3,880.3 786,878.9 789.7,877.8"/><polygon class="a" points="540.9,942.3 530.2,952.6 544.9,950.7"/>
<path class="e" d="M562,962.7C565.8,962.5 569.7,962.3 573.5,962C577.3,961.8 581.2,961.6 585,961.3C588.9,961.1 592.7,960.9 596.6,960.6C600.4,960.4 604.3,960.1 608.1,959.9C612,959.6 615.8,959.3 619.7,959C623.5,958.7 627.4,958.4 631.2,958.1C635.1,957.8 638.9,957.5 642.7,957.1C646.6,956.8 650.4,956.4 654.3,956C658.1,955.6 662,955.2 665.8,954.7C669.6,954.3 673.5,953.8 677.3,953.3C681.1,952.9 684.9,952.3 688.7,951.8C692.6,951.2 696.4,950.7 700.2,950C704,949.4 707.8,948.8 711.6,948.1C715.4,947.4 719.1,946.7 722.9,945.9C726.7,945.2 730.4,944.4 734.2,943.5C738,942.7 741.7,941.8 745.4,940.9C749.2,940 752.9,939 756.6,938C760.3,937 764,935.9 767.7,934.8C771.4,933.7 775.1,932.5 778.7,931.3C782.4,930.1 786.1,928.8 789.7,927.5"/><polygon class="a" points="561.4,958.1 548.7,964.3 562.6,967.3"/>
<path class="e" d="M562.5,970.6C566.5,970.8 570.4,971 574.4,971.2C578.3,971.5 582.3,971.7 586.2,971.8C590.2,972 594.1,972.2 598.1,972.4C602.1,972.5 606,972.7 610,972.9C614,973 617.9,973.2 621.9,973.3C625.9,973.4 629.8,973.5 633.8,973.7C637.8,973.8 641.7,973.9 645.7,974C649.7,974.1 653.7,974.2 657.6,974.3C661.6,974.3 665.6,974.4 669.6,974.5C673.6,974.5 677.5,974.6 681.5,974.6C685.5,974.7 689.5,974.7 693.5,974.7C697.4,974.8 701.4,974.8 705.4,974.8C709.4,974.8 713.4,974.7 717.3,974.7C721.3,974.7 725.3,974.6 729.3,974.5C733.3,974.5 737.2,974.4 741.2,974.2C745.2,974.1 749.2,974 753.1,973.8C757.1,973.7 761.1,973.5 765,973.3C769,973.1 773,972.8 776.9,972.6C780.9,972.3 784.9,972 788.8,971.7C792.8,971.4 796.7,971 800.7,970.7C804.6,970.3 808.6,969.9 812.5,969.4C816.4,969 820.4,968.5 824.3,967.9C828.2,967.4 832.1,966.9 836.1,966.3C840,965.7 843.9,965.1 847.8,964.4C851.7,963.8 855.6,963.1 859.5,962.3C863.4,961.6 867.3,960.8 871.2,960.1C875.1,959.3 878.9,958.4 882.8,957.6C886.7,956.7 890.5,955.8 894.4,954.9C898.2,954 902.1,953 905.9,952C909.7,951 913.6,950 917.4,948.9C921.2,947.9 925,946.8 928.8,945.6C932.6,944.5 936.4,943.3 940.2,942.2C944,941 947.8,939.7 951.5,938.5C955.3,937.2 959,935.9 962.8,934.6C966.5,933.3 970.3,932 974,930.6C977.7,929.2 981.4,927.8 985.1,926.3C988.8,924.9 992.5,923.4 996.2,921.9C999.9,920.4 1003.5,918.9 1007.2,917.3C1010.8,915.7 1014.5,914.1 1018.1,912.5C1021.7,910.9 1025.3,909.2 1028.9,907.5C1032.5,905.8 1036.1,904.1 1039.7,902.4C1043.3,900.6 1046.9,898.8 1050.4,897C1053.9,895.2 1057.5,893.4 1061,891.5"/><polygon class="a" points="563.1,966 548.7,968.8 561.9,975.2"/>
<path class="e" d="M562,980.8C565.8,981.8 569.6,982.8 573.4,983.8C577.3,984.8 581.1,985.7 584.9,986.6C588.7,987.5 592.6,988.4 596.4,989.3C600.3,990.2 604.1,991 608,991.8C611.8,992.6 615.7,993.4 619.6,994.2C623.4,995 627.3,995.7 631.2,996.4C635,997.2 638.9,997.9 642.8,998.5C646.7,999.2 650.6,999.9 654.5,1000.5C658.4,1001.1 662.3,1001.7 666.2,1002.3C670.1,1002.9 674,1003.5 677.9,1004C681.8,1004.5 685.7,1005.1 689.6,1005.6C693.5,1006.1 697.4,1006.5 701.3,1007C705.3,1007.4 709.2,1007.9 713.1,1008.3C717,1008.7 720.9,1009.1 724.9,1009.5C728.8,1009.9 732.7,1010.2 736.6,1010.5C740.6,1010.9 744.5,1011.2 748.4,1011.5C752.4,1011.8 756.3,1012 760.2,1012.3C764.2,1012.5 768.1,1012.7 772,1012.9C776,1013.1 779.9,1013.3 783.8,1013.4C787.8,1013.6 791.7,1013.7 795.6,1013.8C799.6,1013.9 803.5,1013.9 807.5,1014C811.4,1014 815.3,1014 819.3,1014C823.2,1014 827.2,1013.9 831.1,1013.8C835,1013.7 839,1013.6 842.9,1013.5C846.8,1013.3 850.8,1013.1 854.7,1012.9C858.7,1012.7 862.6,1012.5 866.5,1012.2C870.5,1011.9 874.4,1011.6 878.4,1011.2C882.3,1010.9 886.2,1010.5 890.2,1010.1C894.1,1009.6 898,1009.2 901.9,1008.6C905.8,1008.1 909.7,1007.5 913.6,1006.8C917.5,1006.2 921.3,1005.4 925.2,1004.6C929,1003.8 932.8,1002.9 936.6,1002C940.4,1001.1 944.2,1000.1 948.1,999.2C951.9,998.2 955.7,997.2 959.5,996.3C963.4,995.3 967.2,994.3 971.1,993.4C975,992.5 978.9,991.6 982.9,990.7C986.8,989.8 990.7,988.9 994.5,987.8C998.3,986.7 1002,985.3 1005.5,983.7C1009,982.1 1012.3,980.1 1015.4,977.8C1018.5,975.5 1021.4,972.9 1024.4,970.2C1027.3,967.5 1030.2,964.9 1033.3,962.4C1036.4,960 1039.6,957.8 1042.9,955.8C1046.3,953.7 1049.8,951.8 1053.3,950C1056.8,948.3 1060.3,946.5 1063.9,944.9C1067.5,943.2 1071.2,941.7 1074.8,940.1C1078.4,938.5 1082.1,937 1085.7,935.5C1089.4,934 1093,932.5 1096.7,931C1100.3,929.5 1104,928 1107.6,926.5C1111.3,925 1114.9,923.6 1118.6,922.2C1122.3,920.8 1126,919.4 1129.7,918.1C1133.4,916.8 1137.1,915.5 1140.8,914.2C1144.6,912.9 1148.3,911.7 1152.1,910.5C1155.8,909.2 1159.6,908 1163.3,906.9C1167.1,905.7 1170.9,904.5 1174.6,903.3C1178.4,902.2 1182.2,901 1185.9,899.8C1189.7,898.7 1193.5,897.5 1197.2,896.3C1201,895.1 1204.8,893.9 1208.5,892.7C1212.2,891.5 1216,890.3 1219.7,889"/><polygon class="a" points="563.2,976.3 548.7,977.3 560.8,985.3"/>
<path class="e" d="M535.4,985.5C538.8,987.6 542.2,989.7 545.6,991.7C549.1,993.7 552.5,995.7 556,997.6C559.5,999.5 563,1001.4 566.5,1003.2C570,1005.1 573.5,1006.9 577.1,1008.6C580.6,1010.4 584.2,1012.1 587.8,1013.8C591.4,1015.4 595,1017.1 598.6,1018.7C602.2,1020.3 605.8,1021.9 609.5,1023.4C613.1,1024.9 616.8,1026.4 620.4,1027.9C624.1,1029.4 627.8,1030.8 631.5,1032.3C635.2,1033.7 638.9,1035.1 642.6,1036.4C646.3,1037.8 650.1,1039.1 653.8,1040.5C657.5,1041.8 661.3,1043.1 665,1044.4C668.8,1045.6 672.5,1046.9 676.3,1048.1C680.1,1049.4 683.8,1050.6 687.6,1051.8C691.4,1053 695.2,1054.2 699,1055.4C702.8,1056.6 706.5,1057.8 710.3,1059C714.1,1060.1 717.9,1061.3 721.7,1062.4C725.5,1063.6 729.3,1064.7 733.1,1065.9C736.9,1067 740.7,1068.1 744.5,1069.3C748.3,1070.4 752.1,1071.5 755.9,1072.7C759.7,1073.8 763.5,1074.9 767.3,1076C771.2,1077.1 775,1078.2 778.8,1079.3C782.6,1080.4 786.4,1081.5 790.2,1082.6C794,1083.7 797.8,1084.8 801.6,1085.8C805.4,1086.9 809.3,1088 813.1,1089C816.9,1090.1 820.7,1091.1 824.5,1092.2C828.4,1093.2 832.2,1094.2 836,1095.2C839.8,1096.3 843.7,1097.3 847.5,1098.3C851.4,1099.3 855.2,1100.3 859,1101.2C862.9,1102.2 866.7,1103.2 870.6,1104.1C874.4,1105.1 878.3,1106.1 882.1,1107C886,1107.9 889.8,1108.8 893.7,1109.8C897.6,1110.7 901.4,1111.6 905.3,1112.5C909.1,1113.3 913,1114.2 916.9,1115.1C920.7,1116 924.6,1116.8 928.5,1117.7C932.3,1118.5 936.2,1119.3 940.1,1120.2C943.9,1121 947.8,1121.8 951.7,1122.6C955.5,1123.3 959.4,1124.1 963.3,1124.8C967.2,1125.6 971.1,1126.3 975,1126.9C978.9,1127.6 982.8,1128.3 986.7,1128.9C990.6,1129.5 994.5,1130.1 998.4,1130.6C1002.4,1131.1 1006.3,1131.6 1010.2,1132.1C1014.2,1132.6 1018.1,1133 1022.1,1133.4C1026,1133.8 1030,1134.2 1034,1134.5C1038,1134.8 1041.9,1135.1 1045.9,1135.3C1049.9,1135.6 1053.9,1135.8 1057.9,1136C1061.9,1136.1 1065.9,1136.2 1069.9,1136.3C1073.9,1136.4 1077.9,1136.4 1081.9,1136.3C1085.9,1136.2 1089.8,1136.1 1093.8,1135.9C1097.8,1135.7 1101.7,1135.3 1105.7,1134.9C1109.6,1134.5 1113.5,1134 1117.4,1133.4C1121.3,1132.8 1125.2,1132.1 1129,1131.4C1132.9,1130.6 1136.7,1129.7 1140.5,1128.8C1144.4,1127.8 1148.2,1126.8 1151.9,1125.7C1155.7,1124.6 1159.5,1123.5 1163.2,1122.2C1167,1121 1170.7,1119.7 1174.4,1118.3C1178.1,1116.9 1181.8,1115.5 1185.5,1114C1189.1,1112.5 1192.8,1111 1196.4,1109.4C1200.1,1107.8 1203.7,1106.2 1207.3,1104.5C1210.9,1102.8 1214.4,1101.1 1218,1099.3C1221.6,1097.6 1225.1,1095.8 1228.6,1093.9C1232.2,1092.1 1235.7,1090.2 1239.2,1088.3C1242.7,1086.4 1246.1,1084.5 1249.6,1082.5C1253.1,1080.6 1256.5,1078.6 1259.9,1076.6C1263.4,1074.6 1266.8,1072.6 1270.2,1070.5C1273.6,1068.4 1276.9,1066.3 1280.3,1064.2C1283.7,1062.1 1287,1060 1290.4,1057.8C1293.7,1055.7 1297,1053.5 1300.3,1051.3C1303.6,1049.1 1306.9,1046.9 1310.2,1044.6C1313.5,1042.4 1316.7,1040.1 1320,1037.8C1323.2,1035.6 1326.5,1033.3 1329.7,1030.9C1332.9,1028.6 1336.1,1026.3 1339.3,1024C1342.5,1021.6 1345.7,1019.2 1348.9,1016.9C1352,1014.5 1355.2,1012.1 1358.3,1009.7C1361.5,1007.3 1364.6,1004.8 1367.7,1002.4C1370.8,999.9 1373.9,997.5 1376.9,995C1380,992.5 1383.1,989.9 1386.1,987.4C1389.1,984.8 1392.1,982.3 1395.1,979.7C1398.1,977.1 1401.1,974.4 1404,971.8C1406.9,969.1 1409.8,966.4 1412.7,963.7C1415.6,961 1418.5,958.2 1421.3,955.5C1424.1,952.7 1426.9,949.8 1429.7,947C1432.5,944.1 1435.2,941.2 1437.9,938.3"/><polygon class="a" points="538.1,981.7 524.6,978 532.7,989.3"/>
<path class="e" d="M372.8,935C376.4,936.1 380.1,937.2 383.8,938.2C387.4,939.1 391.1,940 394.8,940.9C398.5,941.7 402.2,942.5 406,943.3C409.7,944.1 413.4,944.8 417.1,945.5C420.9,946.3 424.6,947 428.3,947.7C432,948.5 435.8,949.2 439.5,950C443.2,950.8 446.9,951.7 450.6,952.6C454.3,953.5 457.9,954.4 461.6,955.5"/><polygon class="a" points="374,930.5 359.8,931.5 371.6,939.5"/>
<path class="e" d="M447.7,971C443.8,971.1 439.9,971.1 436,971C432,971 428.1,970.8 424.2,970.6C420.2,970.3 416.3,969.9 412.4,969.5C408.5,969 404.6,968.5 400.8,967.8C396.9,967.1 393.1,966.3 389.3,965.4C385.5,964.4 381.8,963.4 378.1,962.2C374.4,961 370.8,959.6 367.2,958.1C363.6,956.7 360.1,955 356.6,953.2C353.2,951.5 349.8,949.5 346.5,947.4C343.2,945.3 340,943 336.9,940.5C333.8,938.1 330.8,935.4 327.9,932.6"/><polygon class="a" points="448,975.7 461.6,970 447.4,966.3"/>
<path class="e" d="M875.8,896C879.3,894.2 882.9,892.4 886.5,890.6C890.1,888.9 893.7,887.2 897.3,885.6C900.9,884 904.6,882.4 908.3,880.8C911.9,879.3 915.6,877.8 919.3,876.3C923,874.8 926.7,873.4 930.4,872C934.2,870.6 937.9,869.2 941.6,867.9C945.4,866.6 949.2,865.3 952.9,864.1C956.7,862.8 960.5,861.6 964.3,860.4C968.1,859.2 971.9,858 975.7,856.8C979.5,855.7 983.3,854.6 987.2,853.5C991,852.4 994.8,851.3 998.7,850.2C1002.5,849.1 1006.3,848.1 1010.2,847.1C1014,846 1017.9,845 1021.7,844C1025.6,843 1029.4,842 1033.3,841"/><polygon class="a" points="873.9,891.7 862.1,902 877.7,900.3"/>
<path class="e" d="M883.3,906.8C887.1,906.6 890.8,906.3 894.5,906C898.3,905.6 902,905.3 905.8,904.9C909.5,904.6 913.2,904.2 917,903.7C920.7,903.3 924.4,902.9 928.2,902.4C931.9,902 935.6,901.5 939.3,901C943.1,900.5 946.8,900 950.5,899.5C954.2,899 957.9,898.5 961.7,898C965.4,897.4 969.1,896.9 972.8,896.3C976.5,895.8 980.2,895.3 984,894.7C987.7,894.2 991.4,893.7 995.1,893.1C998.8,892.6 1002.5,892.1 1006.3,891.6C1010,891 1013.7,890.5 1017.4,890.1C1021.2,889.6 1024.9,889.1 1028.6,888.6C1032.3,888.2 1036.1,887.7 1039.8,887.3"/><polygon class="a" points="882.5,902.2 869.3,909.3 884.1,911.4"/>
<path class="e" d="M1146,846.9L1219.7,868.9"/><polygon class="a" points="1147.6,842.5 1132.2,841.9 1144.4,851.3"/>
<path class="e" d="M1309.9,892Q1362.4,904.1 1410.5,914.6"/><polygon class="a" points="1311,887.5 1297.6,889 1308.8,896.5"/>
<path class="e" d="M1396.6,932C1392.9,932.2 1389.2,932.4 1385.5,932.5C1381.7,932.5 1378,932.5 1374.3,932.4C1370.5,932.3 1366.8,932.1 1363.1,931.8C1359.3,931.4 1355.6,931 1351.9,930.5C1348.2,930 1344.6,929.4 1340.9,928.6C1337.3,927.8 1333.7,927 1330.1,926C1326.6,925 1323,923.9 1319.6,922.6C1316.1,921.3 1312.7,920 1309.3,918.4C1306,916.9 1302.7,915.2 1299.5,913.4C1296.3,911.6 1293.2,909.6 1290.1,907.5C1287.1,905.3 1284.1,903 1281.3,900.6C1278.4,898.1 1275.7,895.5 1273,892.7"/><polygon class="a" points="1397,936.7 1410.5,930.9 1396.2,927.3"/>
<path class="e" d="M1434.9,899.6C1436.6,895.7 1439.5,893 1443.1,891.3C1446.7,889.6 1450.8,888.9 1454.9,889.1C1459,889.3 1463,890.5 1466.2,892.4C1469.4,894.3 1471.8,897.1 1472.8,900.5C1473.8,903.9 1473.3,908 1470.6,912.7"/><polygon class="a" points="1430.5,901.1 1439.3,912.7 1439.3,898.1"/>
<path class="e" d="M802.8,457C804.3,452.9 806.8,450.2 810.1,448.5C813.3,446.7 817.2,445.9 821.4,445.7C825.6,445.5 830.1,445.7 834.4,446.4C838.7,447.1 842.8,448.2 846,450.1C849.1,451.9 851.4,454.5 852.2,457.8C852.9,461.2 852,465.4 848.5,470"/><polygon class="a" points="798.3,458.4 806.8,470 807.3,455.6"/>
<path class="e" d="M880.2,482.7L1039.7,482.7"/><polygon class="a" points="880.2,478 866.5,482.7 880.2,487.4"/>
<path class="e" d="M803.4,1167C800.6,1164.2 797.7,1161.5 794.8,1158.8C791.9,1156 788.9,1153.3 785.8,1150.7C782.8,1148.1 779.7,1145.5 776.6,1143C773.4,1140.5 770.2,1138.1 766.9,1135.7C763.7,1133.4 760.3,1131.1 757,1129C753.6,1126.9 750.2,1124.9 746.7,1123C743.2,1121.1 739.6,1119.4 736,1117.8C732.4,1116.2 728.7,1114.7 725,1113.5C721.3,1112.2 717.5,1111.1 713.7,1110.2C709.8,1109.3 705.9,1108.6 702,1108.1C698,1107.6 694,1107.2 690,1106.9C686,1106.7 681.9,1106.5 677.8,1106.4C673.8,1106.3 669.7,1106.2 665.6,1106.2C661.5,1106.1 657.5,1106 653.4,1105.9C649.4,1105.8 645.3,1105.6 641.4,1105.2C637.4,1104.9 633.4,1104.5 629.5,1103.9C625.6,1103.2 621.8,1102.4 618,1101.4C614.3,1100.4 610.6,1099.1 607,1097.6C603.4,1096.1 599.9,1094.4 596.4,1092.4C593,1090.5 589.6,1088.4 586.4,1086.1C583.1,1083.8 579.9,1081.3 576.9,1078.7C573.8,1076.1 570.8,1073.3 568,1070.4C565.1,1067.6 562.3,1064.6 559.6,1061.5C557,1058.4 554.4,1055.3 552,1052.1C549.5,1048.9 547.2,1045.6 545,1042.3C542.7,1039 540.6,1035.7 538.5,1032.3C536.5,1028.9 534.5,1025.5 532.6,1022.1C530.7,1018.6 528.9,1015.1 527.1,1011.5C525.3,1008 523.6,1004.4 521.9,1000.8C520.3,997.2 518.8,993.5 517.6,989.7C516.4,985.9 515.4,982 515,978"/><polygon class="a" points="800.3,1170.4 813.9,1176.6 806.5,1163.6"/>
<path class="e" d="M516,991.5C517.2,995.1 518.4,998.7 519.5,1002.4C520.7,1006.1 521.8,1009.8 523,1013.5C524.1,1017.3 525.3,1021.1 526.5,1024.9C527.7,1028.7 528.9,1032.5 530.1,1036.4C531.3,1040.2 532.6,1044 533.9,1047.8C535.2,1051.7 536.6,1055.5 538,1059.2C539.4,1063 540.9,1066.7 542.5,1070.4C544,1074.1 545.7,1077.8 547.4,1081.4C549.1,1085 550.9,1088.5 552.8,1091.9C554.7,1095.4 556.7,1098.8 558.9,1102.1C561,1105.3 563.2,1108.5 565.6,1111.6C568,1114.7 570.5,1117.7 573.1,1120.5C575.8,1123.4 578.6,1126.1 581.5,1128.7C584.4,1131.3 587.5,1133.7 590.7,1136C593.9,1138.3 597.2,1140.5 600.7,1142.4C604.1,1144.4 607.6,1146.3 611.2,1147.9C614.8,1149.6 618.5,1151 622.2,1152.3C626,1153.6 629.8,1154.7 633.6,1155.6C637.5,1156.5 641.4,1157.2 645.3,1157.7C649.2,1158.3 653.1,1158.7 657.1,1158.9C661,1159.2 665,1159.4 669,1159.5C673,1159.6 677,1159.6 681,1159.6C684.9,1159.6 688.9,1159.7 692.9,1159.7C696.9,1159.8 700.8,1159.8 704.8,1160C708.7,1160.1 712.7,1160.3 716.6,1160.5C720.5,1160.8 724.4,1161.1 728.3,1161.6C732.2,1162 736.1,1162.5 739.9,1163.2C743.8,1163.8 747.6,1164.6 751.5,1165.5C755.3,1166.4 759.1,1167.4 762.9,1168.6C766.7,1169.7 770.4,1171 774.2,1172.4C777.9,1173.8 781.7,1175.3 785.4,1177"/><polygon class="a" points="520.4,989.9 511,978 511.6,993.1"/>
<path class="e" d="M325.5,944C327.5,947.3 329.6,950.7 331.7,954C333.7,957.3 335.8,960.7 337.9,964C340,967.3 342.1,970.6 344.2,973.9C346.4,977.2 348.5,980.5 350.7,983.8C352.8,987.1 355,990.4 357.2,993.6C359.4,996.9 361.6,1000.1 363.8,1003.4C366.1,1006.6 368.3,1009.8 370.6,1013C372.9,1016.2 375.2,1019.4 377.5,1022.6C379.8,1025.8 382.1,1028.9 384.5,1032.1C386.8,1035.2 389.2,1038.3 391.6,1041.5C394,1044.6 396.4,1047.6 398.9,1050.7C401.3,1053.8 403.8,1056.8 406.3,1059.9C408.8,1062.9 411.3,1065.9 413.9,1068.9C416.4,1071.8 419,1074.8 421.6,1077.7C424.2,1080.7 426.8,1083.6 429.4,1086.5C432.1,1089.3 434.8,1092.2 437.5,1095C440.2,1097.9 442.9,1100.7 445.7,1103.4C448.4,1106.2 451.2,1108.9 454,1111.7C456.9,1114.4 459.7,1117.1 462.6,1119.7C465.5,1122.4 468.4,1125 471.3,1127.6C474.3,1130.2 477.3,1132.7 480.3,1135.2C483.3,1137.8 486.3,1140.3 489.3,1142.7C492.4,1145.2 495.5,1147.6 498.6,1150C501.7,1152.4 504.9,1154.7 508,1157C511.2,1159.3 514.4,1161.6 517.7,1163.9C520.9,1166.1 524.1,1168.3 527.4,1170.5C530.7,1172.7 534,1174.8 537.4,1176.9C540.7,1179 544.1,1181 547.5,1183C550.9,1185 554.3,1187 557.7,1188.8C561.2,1190.7 564.7,1192.6 568.2,1194.3C571.7,1196.1 575.3,1197.8 578.8,1199.4C582.4,1201 586,1202.5 589.6,1204C593.3,1205.5 596.9,1206.8 600.6,1208.1C604.3,1209.4 608,1210.6 611.7,1211.7C615.4,1212.8 619.2,1213.8 623,1214.6C626.8,1215.5 630.6,1216.3 634.4,1217C638.2,1217.6 642.1,1218.2 645.9,1218.6C649.8,1219.1 653.7,1219.4 657.6,1219.7C661.5,1219.9 665.4,1220.1 669.3,1220.1C673.2,1220.2 677.1,1220.1 681,1219.9C685,1219.8 688.9,1219.6 692.8,1219.3C696.8,1219 700.7,1218.6 704.6,1218.1C708.6,1217.7 712.5,1217.1 716.4,1216.5C720.4,1216 724.3,1215.3 728.2,1214.6C732.1,1213.9 736,1213.2 739.9,1212.4C743.8,1211.6 747.6,1210.8 751.5,1210C755.3,1209.1 759.2,1208.3 763,1207.4C766.8,1206.5 770.6,1205.5 774.4,1204.6C778.1,1203.7 781.9,1202.7 785.6,1201.8"/><polygon class="a" points="329.5,941.7 318.9,932.6 321.5,946.3"/>
<path class="e" d="M788,1208C784.2,1209.1 780.4,1210.2 776.5,1211.4C772.7,1212.6 769,1213.8 765.2,1215C761.4,1216.2 757.7,1217.5 753.9,1218.7C750.1,1220 746.4,1221.3 742.7,1222.5C738.9,1223.8 735.2,1225.1 731.4,1226.4C727.7,1227.7 724,1229 720.2,1230.3C716.5,1231.6 712.8,1232.8 709,1234.1C705.3,1235.4 701.5,1236.6 697.8,1237.8C694,1239 690.2,1240.2 686.5,1241.4C682.7,1242.6 678.9,1243.7 675.1,1244.8C671.3,1245.9 667.5,1247 663.6,1248C659.8,1249 655.9,1250 652.1,1250.9C648.2,1251.8 644.3,1252.7 640.4,1253.5C636.5,1254.4 632.6,1255.1 628.6,1255.8C624.7,1256.5 620.7,1257.2 616.8,1257.7C612.8,1258.3 608.9,1258.8 604.9,1259.3C600.9,1259.7 596.9,1260.1 593,1260.4C589,1260.7 585,1260.9 581,1261.1C577,1261.3 573.1,1261.4 569.1,1261.4C565.1,1261.4 561.1,1261.3 557.2,1261.1C553.2,1261 549.2,1260.7 545.3,1260.4C541.3,1260 537.4,1259.6 533.4,1259.1C529.5,1258.6 525.6,1258 521.7,1257.3C517.8,1256.6 513.9,1255.8 510,1254.9C506.1,1254 502.3,1253 498.5,1251.9C494.6,1250.8 490.8,1249.6 487.1,1248.3C483.3,1247 479.6,1245.6 475.9,1244.1C472.3,1242.6 468.6,1241 465,1239.3C461.5,1237.7 457.9,1235.9 454.5,1234C451,1232.1 447.6,1230.1 444.2,1228C440.9,1226 437.6,1223.8 434.4,1221.5C431.2,1219.2 428.1,1216.8 425,1214.4C422,1211.9 419,1209.3 416.2,1206.6C413.3,1203.9 410.5,1201.2 407.8,1198.3C405.1,1195.5 402.5,1192.5 399.9,1189.5C397.4,1186.5 394.9,1183.4 392.5,1180.2C390.1,1177 387.8,1173.8 385.6,1170.5C383.4,1167.2 381.2,1163.8 379.1,1160.4C377,1157 375,1153.6 373.1,1150.1C371.1,1146.6 369.3,1143 367.5,1139.5C365.6,1135.9 363.9,1132.3 362.2,1128.6C360.6,1125 359,1121.3 357.4,1117.7C355.9,1114 354.4,1110.3 352.9,1106.5C351.5,1102.8 350.1,1099.1 348.8,1095.3C347.4,1091.6 346.2,1087.8 344.9,1084C343.7,1080.2 342.5,1076.4 341.3,1072.6C340.2,1068.8 339.1,1064.9 338,1061.1C336.9,1057.3 335.9,1053.5 334.9,1049.6C333.9,1045.8 332.9,1041.9 332,1038.1C331.1,1034.2 330.2,1030.4 329.3,1026.5C328.5,1022.7 327.6,1018.8 326.8,1014.9C326.1,1011.1 325.3,1007.2 324.6,1003.3C323.8,999.4 323.2,995.5 322.5,991.6C321.8,987.7 321.2,983.8 320.6,979.9C320,976 319.5,972.1 318.9,968.1C318.4,964.2 317.9,960.3 317.4,956.3C317,952.4 316.5,948.4 316.1,944.5C315.7,940.5 315.3,936.6 315,932.6"/><polygon class="a" points="790.1,1212.2 799.7,1202 785.9,1203.8"/>
<path class="e" d="M510,991.5C510.6,995.3 511.2,999.2 511.8,1003C512.5,1006.9 513.1,1010.8 513.9,1014.7C514.6,1018.5 515.3,1022.4 516.1,1026.3C516.9,1030.3 517.7,1034.2 518.6,1038.1C519.5,1042 520.4,1045.9 521.4,1049.8C522.3,1053.7 523.4,1057.6 524.4,1061.4C525.5,1065.3 526.7,1069.2 527.9,1073C529.1,1076.9 530.3,1080.7 531.6,1084.5C533,1088.3 534.3,1092 535.8,1095.7C537.3,1099.5 538.8,1103.1 540.4,1106.8C542,1110.4 543.7,1114 545.4,1117.6C547.2,1121.2 549,1124.7 551,1128.1C552.9,1131.6 554.9,1135 557,1138.3C559.1,1141.7 561.3,1144.9 563.5,1148.1C565.8,1151.3 568.2,1154.5 570.7,1157.6C573.1,1160.6 575.7,1163.6 578.3,1166.5C581,1169.5 583.7,1172.3 586.5,1175.1C589.3,1177.8 592.2,1180.5 595.2,1183.1C598.2,1185.7 601.2,1188.2 604.4,1190.6C607.5,1193 610.7,1195.3 613.9,1197.6C617.2,1199.8 620.5,1201.9 623.9,1204C627.3,1206 630.8,1208 634.3,1209.9C637.8,1211.7 641.4,1213.5 645,1215.2C648.6,1216.9 652.3,1218.5 656,1220.1C659.6,1221.6 663.4,1223.1 667.1,1224.5C670.9,1225.9 674.7,1227.2 678.5,1228.4C682.3,1229.7 686.2,1230.9 690,1232C693.9,1233.1 697.7,1234.2 701.6,1235.2C705.5,1236.2 709.4,1237.1 713.3,1238C717.2,1238.9 721.2,1239.8 725.1,1240.6C729,1241.4 732.9,1242.2 736.8,1242.9C740.7,1243.7 744.6,1244.4 748.5,1245C752.4,1245.7 756.3,1246.4 760.2,1247C764,1247.6 767.9,1248.2 771.7,1248.8"/><polygon class="a" points="514.6,990.8 508,978 505.4,992.2"/>
<path class="e" d="M801.2,1273.2C798.1,1275.8 795,1278.3 791.9,1280.8C788.7,1283.2 785.5,1285.6 782.3,1288C779,1290.3 775.8,1292.6 772.4,1294.8C769.1,1297 765.8,1299.1 762.4,1301.2C759,1303.3 755.5,1305.3 752,1307.3C748.6,1309.2 745.1,1311.1 741.5,1312.9C738,1314.8 734.4,1316.5 730.8,1318.2C727.2,1319.9 723.6,1321.5 719.9,1323.1C716.3,1324.6 712.6,1326.1 708.9,1327.5C705.1,1328.9 701.4,1330.3 697.6,1331.5C693.9,1332.8 690.1,1334 686.3,1335.1C682.4,1336.2 678.6,1337.3 674.7,1338.3C670.9,1339.2 667,1340.1 663.1,1341C659.2,1341.8 655.3,1342.5 651.4,1343.2C647.5,1343.9 643.5,1344.5 639.6,1345C635.6,1345.5 631.6,1345.9 627.7,1346.3C623.7,1346.7 619.7,1346.9 615.7,1347.1C611.7,1347.4 607.7,1347.5 603.7,1347.5C599.7,1347.6 595.7,1347.5 591.7,1347.4C587.7,1347.3 583.7,1347.1 579.7,1346.8C575.8,1346.5 571.8,1346.2 567.8,1345.7C563.8,1345.3 559.9,1344.8 555.9,1344.2C552,1343.6 548,1342.9 544.1,1342.1C540.2,1341.4 536.3,1340.5 532.4,1339.6C528.5,1338.6 524.7,1337.6 520.8,1336.5C517,1335.4 513.2,1334.2 509.4,1333C505.6,1331.7 501.9,1330.3 498.2,1328.9C494.4,1327.4 490.7,1325.9 487.1,1324.3C483.5,1322.7 479.8,1321 476.3,1319.2C472.7,1317.5 469.2,1315.6 465.7,1313.7C462.2,1311.7 458.8,1309.7 455.4,1307.6C452,1305.5 448.6,1303.3 445.3,1301.1C442,1298.8 438.8,1296.5 435.6,1294.1C432.4,1291.7 429.3,1289.2 426.3,1286.7C423.2,1284.1 420.2,1281.5 417.2,1278.8C414.3,1276.2 411.4,1273.4 408.6,1270.6C405.8,1267.8 403.1,1264.9 400.4,1262C397.8,1259 395.2,1256 392.6,1252.9C390.1,1249.9 387.7,1246.8 385.3,1243.6C383,1240.4 380.7,1237.1 378.5,1233.8C376.3,1230.6 374.2,1227.2 372.2,1223.8C370.2,1220.4 368.2,1216.9 366.4,1213.4C364.6,1209.9 362.8,1206.3 361.2,1202.7C359.5,1199.1 358,1195.5 356.5,1191.8C355.1,1188.1 353.7,1184.3 352.4,1180.5C351.1,1176.8 349.9,1172.9 348.8,1169.1C347.7,1165.3 346.6,1161.4 345.6,1157.5C344.6,1153.6 343.7,1149.7 342.7,1145.8C341.8,1141.9 341,1138 340.1,1134C339.3,1130.1 338.5,1126.2 337.7,1122.2C336.9,1118.3 336.2,1114.3 335.5,1110.4C334.7,1106.4 334,1102.5 333.3,1098.6C332.6,1094.6 331.9,1090.7 331.2,1086.8C330.5,1082.8 329.9,1078.9 329.2,1075C328.5,1071 327.9,1067.1 327.3,1063.2C326.6,1059.2 326,1055.3 325.4,1051.4C324.8,1047.5 324.2,1043.5 323.7,1039.6C323.1,1035.7 322.6,1031.8 322,1027.8C321.5,1023.9 321,1020 320.5,1016C320.1,1012.1 319.6,1008.1 319.1,1004.2C318.7,1000.3 318.3,996.3 317.9,992.4C317.5,988.4 317.1,984.4 316.8,980.5C316.4,976.5 316.1,972.6 315.8,968.6C315.5,964.6 315.3,960.6 315.1,956.6C314.8,952.6 314.6,948.6 314.4,944.6C314.3,940.6 314.1,936.6 314,932.6"/><polygon class="a" points="804,1276.9 812.5,1264.5 798.4,1269.5"/>
<path class="e" d="M516.5,991.5C517.5,995.3 518.6,999 519.7,1002.8C520.8,1006.5 522,1010.3 523.1,1014C524.3,1017.8 525.5,1021.5 526.7,1025.2C527.9,1029 529.1,1032.7 530.4,1036.4C531.6,1040.1 532.9,1043.8 534.1,1047.6C535.4,1051.3 536.7,1055 537.9,1058.7C539.2,1062.5 540.5,1066.2 541.7,1069.9C543,1073.6 544.2,1077.3 545.5,1081.1C546.7,1084.8 547.9,1088.5 549.1,1092.3C550.3,1096 551.5,1099.7 552.6,1103.5C553.8,1107.2 554.9,1111 555.9,1114.7C557,1118.5 558,1122.2 559,1126C560,1129.8 560.9,1133.6 561.8,1137.4C562.7,1141.2 563.5,1145 564.3,1148.8C565,1152.6 565.7,1156.5 566.3,1160.4C567,1164.2 567.5,1168.1 567.9,1172C568.4,1175.9 568.8,1179.8 569,1183.8C569.3,1187.7 569.5,1191.7 569.7,1195.7C569.8,1199.7 570,1203.6 570.2,1207.6C570.5,1211.5 570.8,1215.4 571.3,1219.3C571.8,1223.1 572.4,1226.9 573.3,1230.6C574.2,1234.4 575.4,1238 576.9,1241.5C578.3,1245 580,1248.5 582,1251.8C583.9,1255.1 586,1258.3 588.4,1261.4C590.7,1264.5 593.3,1267.5 595.9,1270.4C598.6,1273.3 601.4,1276 604.4,1278.6C607.3,1281.2 610.4,1283.7 613.5,1286.1C616.7,1288.5 619.9,1290.7 623.3,1292.8C626.6,1295 630,1297 633.5,1298.9C636.9,1300.8 640.5,1302.5 644.1,1304.2C647.7,1305.9 651.3,1307.4 655,1308.9C658.6,1310.3 662.3,1311.7 666.1,1312.9C669.8,1314.2 673.5,1315.3 677.3,1316.3C681.1,1317.4 684.8,1318.3 688.6,1319.2C692.4,1320.1 696.2,1320.9 700.1,1321.6C703.9,1322.3 707.8,1323 711.6,1323.5C715.5,1324.1 719.4,1324.6 723.2,1325.1C727.1,1325.5 731,1326 734.9,1326.3C738.8,1326.7 742.7,1327 746.6,1327.2C750.6,1327.5 754.5,1327.8 758.4,1328C762.3,1328.2 766.3,1328.3 770.2,1328.5"/><polygon class="a" points="520.9,989.9 511.5,978 512.1,993.1"/>
<path class="e" d="M803.4,1349.5C800.3,1351.9 797.1,1354.3 794,1356.6C790.8,1359 787.6,1361.3 784.3,1363.5C781,1365.8 777.7,1368 774.4,1370.1C771.1,1372.3 767.7,1374.4 764.3,1376.5C760.9,1378.5 757.5,1380.5 754,1382.5C750.6,1384.5 747.1,1386.4 743.6,1388.2C740,1390.1 736.5,1391.8 732.9,1393.6C729.3,1395.3 725.7,1397 722.1,1398.6C718.4,1400.2 714.8,1401.7 711.1,1403.2C707.4,1404.7 703.7,1406.1 700,1407.4C696.3,1408.8 692.5,1410 688.7,1411.2C685,1412.4 681.2,1413.5 677.4,1414.6C673.6,1415.6 669.7,1416.6 665.9,1417.5C662.1,1418.4 658.2,1419.2 654.3,1419.9C650.4,1420.6 646.6,1421.3 642.7,1421.8C638.8,1422.4 634.8,1422.9 630.9,1423.2C627,1423.6 623.1,1423.9 619.1,1424.1C615.2,1424.3 611.2,1424.4 607.2,1424.4C603.3,1424.4 599.3,1424.4 595.4,1424.2C591.4,1424 587.4,1423.8 583.5,1423.4C579.5,1423.1 575.6,1422.6 571.6,1422.1C567.7,1421.6 563.7,1421 559.8,1420.3C555.9,1419.6 552,1418.8 548.1,1417.9C544.2,1417 540.3,1416.1 536.5,1415C532.7,1414 528.8,1412.9 525,1411.6C521.2,1410.4 517.5,1409.1 513.7,1407.8C510,1406.4 506.3,1404.9 502.6,1403.4C499,1401.8 495.3,1400.2 491.8,1398.5C488.2,1396.8 484.6,1395 481.1,1393.1C477.6,1391.3 474.2,1389.3 470.8,1387.3C467.4,1385.2 464,1383.1 460.7,1381C457.4,1378.8 454.2,1376.5 451,1374.2C447.8,1371.8 444.7,1369.4 441.6,1366.9C438.6,1364.4 435.6,1361.9 432.7,1359.2C429.7,1356.6 426.9,1353.9 424.2,1351.1C421.4,1348.2 418.8,1345.3 416.3,1342.3C413.8,1339.3 411.4,1336.2 409.1,1333C406.9,1329.8 404.7,1326.5 402.7,1323.2C400.7,1319.8 398.8,1316.3 397.1,1312.8C395.3,1309.2 393.6,1305.6 392.1,1302C390.5,1298.3 389,1294.6 387.6,1290.9C386.2,1287.1 384.8,1283.4 383.5,1279.6C382.2,1275.8 380.9,1272 379.7,1268.2C378.4,1264.4 377.2,1260.6 376,1256.8C374.7,1253 373.5,1249.2 372.3,1245.4C371.1,1241.7 369.9,1237.9 368.7,1234.1C367.5,1230.3 366.3,1226.6 365.1,1222.8C363.9,1219.1 362.6,1215.3 361.4,1211.6C360.1,1207.8 358.9,1204.1 357.6,1200.3C356.3,1196.6 355,1192.8 353.7,1189.1C352.4,1185.4 351.1,1181.6 349.8,1177.9C348.5,1174.1 347.2,1170.4 345.9,1166.6C344.7,1162.9 343.4,1159.1 342.2,1155.3C341,1151.6 339.8,1147.8 338.7,1144C337.6,1140.2 336.5,1136.4 335.4,1132.6C334.4,1128.7 333.3,1124.9 332.3,1121.1C331.4,1117.3 330.4,1113.4 329.5,1109.6C328.6,1105.7 327.7,1101.9 326.8,1098C326,1094.1 325.2,1090.2 324.4,1086.4C323.6,1082.5 322.9,1078.6 322.2,1074.7C321.5,1070.8 320.8,1066.9 320.2,1063C319.6,1059.1 319,1055.2 318.4,1051.2C317.8,1047.3 317.3,1043.4 316.8,1039.5C316.3,1035.5 315.9,1031.6 315.5,1027.7C315,1023.7 314.6,1019.8 314.3,1015.8C313.9,1011.9 313.6,1007.9 313.3,1004C313.1,1000 312.8,996.1 312.6,992.1C312.4,988.1 312.2,984.2 312,980.2C311.9,976.3 311.8,972.3 311.7,968.3C311.6,964.4 311.6,960.4 311.6,956.4C311.6,952.5 311.6,948.5 311.6,944.5C311.7,940.5 311.8,936.6 311.9,932.6"/><polygon class="a" points="806.3,1353.2 814.7,1340.7 800.5,1345.8"/>
<path class="e" d="M512.5,991.5C513.3,995.4 514.2,999.3 515.1,1003.1C516.1,1007 517.1,1010.8 518.2,1014.6C519.3,1018.5 520.5,1022.2 521.7,1026C522.9,1029.8 524.2,1033.5 525.5,1037.3C526.8,1041 528.2,1044.8 529.6,1048.5C530.9,1052.2 532.3,1055.9 533.8,1059.6C535.2,1063.3 536.6,1067 538.1,1070.7C539.5,1074.4 540.9,1078.1 542.4,1081.8C543.8,1085.5 545.2,1089.2 546.6,1093C548,1096.7 549.4,1100.4 550.7,1104.1C552,1107.9 553.3,1111.6 554.6,1115.4C555.9,1119.1 557.1,1122.9 558.3,1126.7C559.5,1130.5 560.6,1134.3 561.6,1138.1C562.7,1141.9 563.6,1145.8 564.4,1149.7C565.2,1153.6 566,1157.5 566.6,1161.4C567.3,1165.3 567.9,1169.2 568.4,1173.1C568.9,1177.1 569.3,1181 569.7,1184.9C570.1,1188.9 570.4,1192.8 570.7,1196.8C570.9,1200.7 571.2,1204.6 571.4,1208.6C571.5,1212.5 571.7,1216.5 571.8,1220.5C572,1224.4 572.1,1228.4 572.2,1232.3C572.2,1236.3 572.3,1240.3 572.4,1244.2C572.5,1248.2 572.6,1252.2 572.6,1256.2C572.7,1260.2 572.8,1264.2 572.9,1268.2C573.1,1272.2 573.2,1276.2 573.4,1280.2C573.6,1284.3 573.8,1288.3 574.2,1292.3C574.6,1296.2 575.1,1300.2 575.7,1304.1C576.3,1308 577.1,1311.9 578.1,1315.7C579.1,1319.5 580.3,1323.2 581.8,1326.9C583.3,1330.5 584.9,1334.1 586.8,1337.5C588.7,1341 590.8,1344.3 593.1,1347.5C595.4,1350.6 597.9,1353.7 600.5,1356.6C603.2,1359.5 606,1362.2 609,1364.9C611.9,1367.5 615,1370 618.2,1372.4C621.4,1374.8 624.7,1377.1 628.1,1379.2C631.5,1381.4 634.9,1383.5 638.4,1385.4C641.9,1387.4 645.4,1389.2 649,1391C652.6,1392.8 656.2,1394.4 659.8,1396C663.4,1397.6 667.1,1399.1 670.8,1400.6C674.5,1402 678.2,1403.4 681.9,1404.6C685.7,1405.9 689.5,1407.1 693.2,1408.3C697,1409.5 700.8,1410.5 704.7,1411.6C708.5,1412.6 712.4,1413.6 716.2,1414.5C720.1,1415.5 723.9,1416.3 727.8,1417.2C731.7,1418 735.6,1418.8 739.5,1419.6C743.4,1420.4 747.3,1421.1 751.2,1421.8C755.1,1422.5 759,1423.2 763,1423.9C766.9,1424.5 770.8,1425.2 774.7,1425.8"/><polygon class="a" points="517.1,990.5 509.5,978 507.9,992.5"/>
<path class="e" d="M774.7,1445.7C770.8,1446.7 767,1447.7 763.1,1448.7C759.2,1449.6 755.3,1450.6 751.4,1451.5C747.5,1452.4 743.6,1453.3 739.7,1454.2C735.8,1455.1 731.9,1455.9 728,1456.8C724.1,1457.6 720.2,1458.4 716.2,1459.2C712.3,1460 708.4,1460.7 704.5,1461.4C700.5,1462.1 696.6,1462.8 692.7,1463.5C688.7,1464.1 684.8,1464.8 680.8,1465.4C676.9,1466 672.9,1466.5 669,1467C665,1467.6 661.1,1468 657.1,1468.5C653.2,1468.9 649.2,1469.3 645.2,1469.7C641.3,1470.1 637.3,1470.4 633.3,1470.7C629.3,1471 625.4,1471.2 621.4,1471.4C617.4,1471.6 613.4,1471.8 609.4,1471.9C605.5,1472 601.5,1472.1 597.5,1472.1C593.5,1472.1 589.5,1472.1 585.5,1472C581.5,1471.9 577.5,1471.8 573.5,1471.6C569.5,1471.4 565.5,1471.2 561.5,1470.9C557.5,1470.6 553.6,1470.2 549.6,1469.8C545.6,1469.4 541.6,1468.9 537.6,1468.4C533.6,1467.8 529.7,1467.2 525.7,1466.5C521.8,1465.8 517.8,1465.1 513.9,1464.3C510,1463.4 506.1,1462.5 502.2,1461.5C498.3,1460.5 494.4,1459.5 490.5,1458.3C486.7,1457.2 482.9,1455.9 479,1454.6C475.2,1453.3 471.4,1451.9 467.7,1450.4C464,1448.8 460.3,1447.2 456.7,1445.5C453,1443.8 449.5,1441.9 446,1440C442.6,1438 439.2,1435.9 436,1433.7C432.7,1431.5 429.6,1429.1 426.6,1426.6C423.6,1424.1 420.8,1421.4 418.1,1418.6C415.5,1415.8 413,1412.9 410.6,1409.7C408.3,1406.6 406.1,1403.4 404.1,1400C402,1396.7 400.1,1393.2 398.3,1389.6C396.4,1386.1 394.7,1382.4 393.1,1378.7C391.4,1375.1 389.9,1371.3 388.4,1367.5C386.9,1363.8 385.4,1360 384,1356.2C382.6,1352.4 381.2,1348.6 379.9,1344.8C378.5,1341 377.2,1337.2 375.9,1333.3C374.6,1329.5 373.4,1325.7 372.1,1321.9C370.9,1318.1 369.7,1314.2 368.5,1310.4C367.4,1306.6 366.2,1302.7 365.1,1298.9C364,1295.1 362.9,1291.2 361.8,1287.4C360.8,1283.5 359.7,1279.7 358.7,1275.8C357.7,1271.9 356.7,1268.1 355.7,1264.2C354.7,1260.4 353.8,1256.5 352.8,1252.6C351.9,1248.7 351,1244.9 350.1,1241C349.2,1237.1 348.3,1233.2 347.5,1229.3C346.6,1225.4 345.7,1221.5 344.9,1217.6C344.1,1213.7 343.3,1209.8 342.5,1205.9C341.7,1202 340.9,1198.1 340.2,1194.2C339.4,1190.3 338.6,1186.4 337.9,1182.5C337.2,1178.5 336.5,1174.6 335.8,1170.7C335,1166.8 334.4,1162.8 333.7,1158.9C333,1155 332.3,1151 331.7,1147.1C331,1143.2 330.4,1139.2 329.7,1135.3C329.1,1131.3 328.5,1127.4 327.9,1123.4C327.2,1119.5 326.7,1115.5 326.1,1111.6C325.5,1107.6 324.9,1103.7 324.4,1099.7C323.8,1095.8 323.3,1091.8 322.7,1087.8C322.2,1083.9 321.7,1079.9 321.2,1075.9C320.7,1072 320.2,1068 319.8,1064C319.3,1060.1 318.9,1056.1 318.4,1052.1C318,1048.1 317.6,1044.2 317.2,1040.2C316.8,1036.2 316.4,1032.2 316.1,1028.2C315.7,1024.3 315.4,1020.3 315.1,1016.3C314.7,1012.3 314.4,1008.3 314.2,1004.4C313.9,1000.4 313.6,996.4 313.4,992.4C313.2,988.4 313,984.4 312.8,980.4C312.6,976.5 312.4,972.5 312.3,968.5C312.1,964.5 312,960.5 311.9,956.5C311.8,952.5 311.7,948.5 311.7,944.6C311.6,940.6 311.6,936.6 311.6,932.6"/><polygon class="a" points="775.9,1450.2 788.4,1442 773.5,1441.2"/>
</g>
<g id="labels">
<text x="390 394 404 411 414" y="16" fill="#c0c0c0">fCall</text>
<text x="384 388 398 405 412" y="31" fill="#c0c0c0">fCopy</text>
<text x="387 391 399 403 410" y="46" fill="#c0c0c0">fFree</text>
<text x="151 162 169 177 184 188 195 202 209 219 226 230" y="899" fill="#c0c0c0">mkThreadData</text>
<text x="185 188 195" y="935" fill="#c0c0c0">log</text>
<text x="285 289 298 305 308 312 322 329 336" y="865" fill="#c0c0c0">fSelfDecr</text>
<text x="286 290 299 306 309 313 317 324 331" y="879" fill="#c0c0c0">fSelfIncr</text>
<text x="804 811 815 819 826 830 837 848" y="87" fill="#c0c0c0">error_mk</text>
<text x="610 617 628 635 644 651 655 659 666 670 677 684 691 698 708 715" y="120" fill="#c0c0c0">_MkBuffer1024C_T</text>
<text x="611 618 629 636 645 652 656 660 667 671 678 685 692 702 709" y="135" fill="#c0c0c0">_MkBuffer256C_T</text>
<text x="615 622 633 640 649 656 660 664 671 675 682 689 699 706" y="149" fill="#c0c0c0">_MkBuffer64C_T</text>
<text x="622 629 640 647 656 663 667 671 678 682 692 699" y="164" fill="#c0c0c0">_MkBufferC_T</text>
<text x="611 618 629 636 645 652 656 660 667 671 678 681 688 692 702 709" y="179" fill="#c0c0c0">_MkBufferListC_T</text>
<text x="591 598 609 616 625 632 636 640 647 651 660 664 668 675 682 693 700 707 714 721" y="193" fill="#c0c0c0">_MkBufferStream1024C</text>
<text x="657 664" y="208" fill="#c0c0c0">_T</text>
<text x="591 598 609 616 625 632 636 640 647 651 660 664 668 675 682 693 700 707 714 721 728" y="223" fill="#c0c0c0">_MkBufferStream16384C</text>
<text x="657 664" y="237" fill="#c0c0c0">_T</text>
<text x="591 598 609 616 625 632 636 640 647 651 660 664 668 675 682 693 700 707 714" y="252" fill="#c0c0c0">_MkBufferStream256C</text>
<text x="657 664" y="267" fill="#c0c0c0">_T</text>
<text x="591 598 609 616 625 632 636 640 647 651 660 664 668 675 682 693 700 707" y="281" fill="#c0c0c0">_MkBufferStream64C</text>
<text x="657 664" y="296" fill="#c0c0c0">_T</text>
<text x="591 598 609 616 625 632 636 640 647 651 660 664 668 675 682 693" y="311" fill="#c0c0c0">_MkBufferStreamC</text>
<text x="657 664" y="325" fill="#c0c0c0">_T</text>
<text x="658 662 666" y="340" fill="#c0c0c0">...</text>
<text x="478 485 492 499 503 507 514 521 525 532" y="343" fill="#c0c0c0">destructor</text>
<text x="472 476 483 490 497 505 512 516 527 534" y="357" fill="#c0c0c0">fLogFormat</text>
<text x="497 500 507" y="372" fill="#c0c0c0">log</text>
<text x="475 482 489 492 496 506 510 517 524 528" y="387" fill="#c0c0c0">selfCreate</text>
<text x="476 483 490 493 497 507 514 517 524 528" y="401" fill="#c0c0c0">selfDelete</text>
<text x="476 483 490 493 497 507 514 517 520 527" y="416" fill="#c0c0c0">selfUnlink</text>
<text x="483 487 494 503 507 511 514 521" y="431" fill="#c0c0c0">toString</text>
<text x="481 485 492 499 506 513 516 523 526" y="445" fill="#c0c0c0">type_init</text>
<text x="464 471 482 489 497 504 511 518 528 535 543" y="500" fill="#c0c0c0">_MkTypeC_TT</text>
<text x="451 458 469 476 484 491 498 505 515 522 526 536 543 551" y="515" fill="#c0c0c0">_MkTypeDefC_TT</text>
<text x="655 659 666 673" y="531" fill="#c0c0c0">tbuf</text>
<text x="654 658 665 672" y="573" fill="#c0c0c0">type</text>
<text x="634 641 648 655 662 666 670 677 684 688 695" y="624" fill="#c0c0c0">constructor</text>
<text x="650 657 664 671" y="639" fill="#c0c0c0">copy</text>
<text x="654 661 668" y="653" fill="#c0c0c0">dup</text>
<text x="650 657 664 671" y="668" fill="#c0c0c0">dup2</text>
<text x="631 634 641 648 652 659 666 673 680 687" y="683" fill="#c0c0c0">instancesR</text>
<text x="646 657 664 668 675" y="697" fill="#c0c0c0">merge</text>
<text x="656 663 670" y="712" fill="#c0c0c0">obj</text>
<text x="650 654 661 668 675" y="727" fill="#c0c0c0">reset</text>
<text x="821 828 835" y="651" fill="#c0c0c0">obj</text>
<text x="821 828 835" y="801" fill="#c0c0c0">obj</text>
<text x="634 641 648 651 658 665 669 676 680 687 694" y="844" fill="#c0c0c0">obj_protect</text>
<text x="654 661 668 675" y="884" fill="#c0c0c0">next</text>
<text x="652 659 663 670" y="899" fill="#c0c0c0">prev</text>
<text x="658 665 672" y="939" fill="#c0c0c0">obj</text>
<text x="821 828 835" y="951" fill="#c0c0c0">obj</text>
<text x="920 924 931 935 946 953 957 964 971 975 982 989 993 997 1004" y="964" fill="#c0c0c0">format_of_error</text>
<text x="954 961 968" y="979" fill="#c0c0c0">obj</text>
<text x="1053 1057 1066 1070 1074 1081 1085 1094 1101 1108 1115 1122" y="977" fill="#c0c0c0">fErrorAppend</text>
<text x="1045 1049 1058 1062 1066 1073 1077 1085 1092 1096 1107 1114 1118 1128" y="992" fill="#c0c0c0">fErrorFormatOf</text>
<text x="1064 1068 1077 1081 1085 1092 1096 1100 1107 1110" y="1007" fill="#c0c0c0">fErrorInit</text>
<text x="1062 1066 1075 1079 1083 1090 1094 1101 1108" y="1021" fill="#c0c0c0">fErrorLog</text>
<text x="1056 1060 1069 1073 1077 1084 1088 1097 1104 1111 1114" y="1036" fill="#c0c0c0">fErrorPanik</text>
<text x="1055 1059 1068 1072 1076 1083 1087 1097 1104 1111 1118" y="1051" fill="#c0c0c0">fErrorReset</text>
<text x="1035 1039 1048 1052 1056 1063 1067 1077 1084 1091 1098 1102 1112 1119 1128 1135 1138" y="1065" fill="#c0c0c0">fErrorResetOnExit</text>
<text x="1058 1062 1071 1075 1079 1086 1090 1099 1106 1110" y="1080" fill="#c0c0c0">fErrorSetR</text>
<text x="1055 1059 1068 1072 1076 1083 1087 1096 1103 1107 1116" y="1095" fill="#c0c0c0">fErrorSetVL</text>
<text x="1080 1087 1094" y="1109" fill="#c0c0c0">obj</text>
<text x="1083 1087 1091" y="1124" fill="#c0c0c0">...</text>
<text x="388 395 402 405 415" y="932" fill="#c0c0c0">objRt</text>
<text x="395 402 409" y="960" fill="#c0c0c0">obj</text>
<text x="955 962 969" y="844" fill="#c0c0c0">buf</text>
<text x="955 962 969" y="887" fill="#c0c0c0">buf</text>
<text x="1173 1177 1184 1191" y="851" fill="#c0c0c0">text</text>
<text x="1325 1336 1343 1350 1354 1358 1365 1372 1379" y="892" fill="#c0c0c0">mkerrhead</text>
<text x="1328 1339 1346 1355 1359 1363 1372 1379" y="920" fill="#c0c0c0">mkErrExt</text>
<text x="1425 1429 1438 1442 1446 1453 1457 1466 1473 1477" y="885" fill="#c0c0c0">fErrorSetE</text>
<text x="798 802 809 816 823 830 837 844 851" y="427" fill="#c0c0c0">type_base</text>
<text x="795 799 806 813 820 827 834 837 844 851" y="442" fill="#c0c0c0">type_class</text>
<text x="955 959 966" y="479" fill="#c0c0c0">typ</text>
<text x="641 648 655 658 668 672 681 688" y="1084" fill="#c0c0c0">objRtExt</text>
<text x="658 665 672" y="1132" fill="#c0c0c0">obj</text>
<text x="479 490 497 501 505 515 522 529" y="1096" fill="#c0c0c0">mkrtHead</text>
<text x="481 492 499 509 513 522 529" y="1208" fill="#c0c0c0">mkRtExt</text>
<text x="469 480 487 497 501 510 517 521 530 534" y="1223" fill="#c0c0c0">mkRtExtAry</text>
<text x="658 665 672" y="1177" fill="#c0c0c0">obj</text>
<text x="480 487 491 495 502 506 513 520 527 530" y="1276" fill="#c0c0c0">error_exit</text>
<text x="473 480 484 488 495 499 506 513 520 527 530" y="1291" fill="#c0c0c0">error_panic</text>
<text x="658 665 672" y="1260" fill="#c0c0c0">obj</text>
<text x="473 480 484 488 495 499 506 509 516 523 530 534" y="1361" fill="#c0c0c0">error_ignore</text>
<text x="658 665 672" y="1340" fill="#c0c0c0">obj</text>
<text x="478 485 489 493 500 504 511 518 522 525 532" y="1436" fill="#c0c0c0">error_print</text>
</g>
</svg>
</body>
</html>
